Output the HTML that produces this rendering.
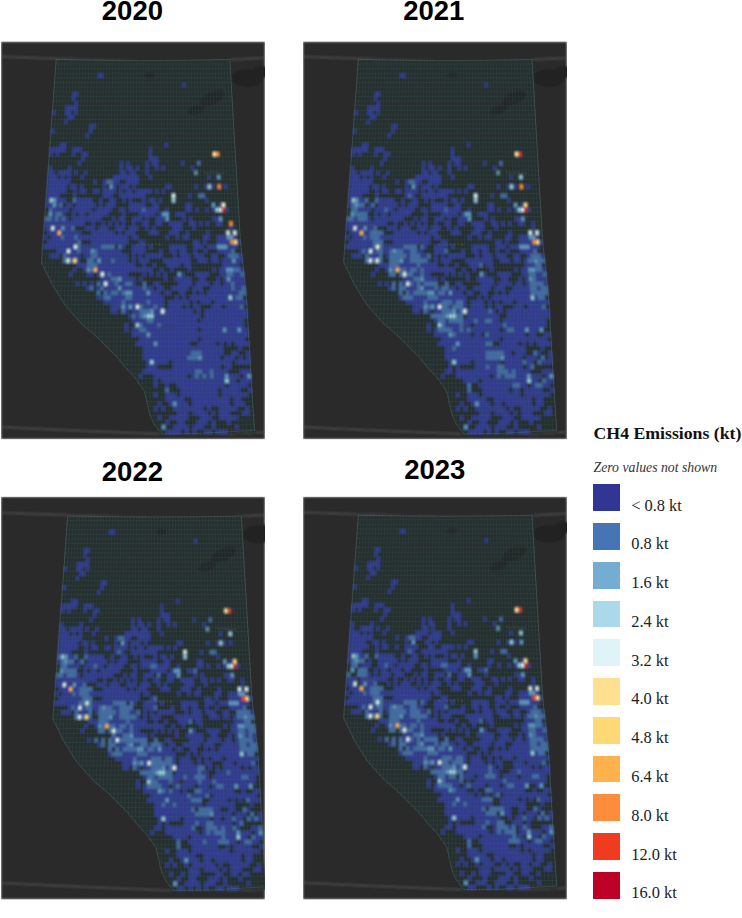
<!DOCTYPE html><html><head><meta charset="utf-8"><title>CH4 Emissions</title><style>
html,body{margin:0;padding:0;background:#fff}body{width:742px;height:918px;position:relative;overflow:hidden;font-family:"Liberation Sans",sans-serif}
.t{position:absolute;font:bold 27.5px "Liberation Sans",sans-serif;color:#000;line-height:27px;white-space:nowrap}
.lt{position:absolute;left:593.5px;top:422.4px;font:bold 17.75px "Liberation Serif",serif;color:#111;white-space:nowrap;line-height:22px}
.ls{position:absolute;left:593.5px;top:458.8px;font:italic 13.75px "Liberation Serif",serif;color:#333;white-space:nowrap;line-height:18px}
.sw{position:absolute;left:593px;width:27.4px;height:26.8px}
.ll{position:absolute;left:631.2px;font:16.4px "Liberation Serif",serif;color:#222;white-space:nowrap;line-height:20px}
svg{position:absolute;left:0;top:0}
</style></head><body>
<svg width="742" height="918" viewBox="0 0 742 918">
<defs><filter id="bl" x="-5%" y="-5%" width="110%" height="110%"><feGaussianBlur stdDeviation="0.8"/></filter>
<clipPath id="c0"><rect x="1" y="41.5" width="264" height="397.8"/></clipPath>
<clipPath id="c1"><rect x="303" y="41.5" width="264" height="397.8"/></clipPath>
<clipPath id="c2"><rect x="1" y="496.7" width="264" height="402.8"/></clipPath>
<clipPath id="c3"><rect x="303" y="496.7" width="264" height="402.8"/></clipPath>
<clipPath id="ab"><polygon points="55.2,58.9 143,60.1 230.8,59.1 241.3,240 247.6,300 252.2,380 255.5,432.8 200,435.9 161,436.3 156.7,429.1 152.4,423.6 148.1,412.9 146,402.1 143.3,391.6 134.3,378.6 125.8,369.6 115,356.6 105.4,347 94.6,336.2 80.6,324.3 64,305.6 51,284.6 40.4,262.6"/></clipPath>
<g id="base">
<g fill="#232222"><ellipse cx="247" cy="78" rx="16" ry="9"/><ellipse cx="262" cy="72" rx="10" ry="6"/></g><g fill="none" stroke="#5c5e5d" stroke-width="0.9"><path d="M-20 56Q60 59.2 143 60.6T300 55"/><path d="M-20 426Q80 431 162 434T300 427.5"/></g>
<polygon points="55.2,58.9 143,60.1 230.8,59.1 241.3,240 247.6,300 252.2,380 255.5,432.8 200,435.9 161,436.3 156.7,429.1 152.4,423.6 148.1,412.9 146,402.1 143.3,391.6 134.3,378.6 125.8,369.6 115,356.6 105.4,347 94.6,336.2 80.6,324.3 64,305.6 51,284.6 40.4,262.6" fill="#272e2e"/>
<g fill="#1f2323" opacity="0.8"><ellipse cx="212" cy="98" rx="13" ry="6" transform="rotate(-25 212 98)"/><ellipse cx="196" cy="110" rx="9" ry="4.5" transform="rotate(-20 196 110)"/><ellipse cx="150" cy="75" rx="5" ry="3"/></g>
</g>
<g id="grid" clip-path="url(#ab)"><path d="M52.2 59.4H233.8M51.9 64H234.1M51.6 68.6H234.3M51.2 73.3H234.6M50.9 77.9H234.9M50.6 82.5H235.1M50.3 87.1H235.4M49.9 91.8H235.7M49.6 96.4H235.9M49.3 101H236.2M49 105.6H236.5M48.6 110.3H236.7M48.3 114.9H237M48 119.5H237.3M47.7 124.1H237.6M47.3 128.8H237.8M47 133.4H238.1M46.7 138H238.4M46.4 142.6H238.6M46 147.3H238.9M45.7 151.9H239.2M45.4 156.5H239.4M45.1 161.1H239.7M44.8 165.8H240M44.4 170.4H240.2M44.1 175H240.5M43.8 179.6H240.8M43.5 184.3H241.1M43.1 188.9H241.3M42.8 193.5H241.6M42.5 198.1H241.9M42.2 202.8H242.1M41.8 207.4H242.4M41.5 212H242.7M41.2 216.6H242.9M40.9 221.3H243.2M40.5 225.9H243.5M40.2 230.5H243.7M39.9 235.1H244M39.6 239.8H244.3M39.3 244.4H244.8M38.9 249H245.2M38.6 253.6H245.7M38.3 258.3H246.2M38 262.9H246.7M37.6 267.5H247.2M37.3 272.1H247.7M37 276.8H248.2M36.7 281.4H248.6M36.3 286H249.1M36 290.6H249.6M35.7 295.3H250.1M35.4 299.9H250.6M35 304.5H250.9M34.7 309.1H251.1M34.4 313.8H251.4M34.1 318.4H251.7M33.7 323H251.9M33.4 327.6H252.2M33.1 332.3H252.5M32.8 336.9H252.7M32.5 341.5H253M32.1 346.1H253.3M31.8 350.8H253.5M31.5 355.4H253.8M31.2 360H254.1M30.8 364.6H254.3M30.5 369.3H254.6M30.2 373.9H254.8M29.9 378.5H255.1M29.5 383.1H255.4M29.2 387.8H255.7M28.9 392.4H256M28.6 397H256.3M28.2 401.6H256.6M27.9 406.3H256.9M27.6 410.9H257.2M27.3 415.5H257.5M26.9 420.1H257.8M26.6 424.8H258.2M26.3 429.4H258.5M26 434H258.8M25.7 438.6H259.1M53.3 58.4L40.2 240L35.8 300L30 380L25.8 438M56.3 58.4L43.6 240L39.4 300L33.8 380L29.7 438M59.3 58.4L47 240L42.9 300L37.5 380L33.6 438M62.3 58.4L50.3 240L46.5 300L41.3 380L37.5 438M65.2 58.4L53.7 240L50.1 300L45 380L41.4 438M68.2 58.4L57.1 240L53.7 300L48.8 380L45.2 438M71.2 58.4L60.5 240L57.2 300L52.5 380L49.1 438M74.2 58.4L63.9 240L60.8 300L56.3 380L53 438M77.2 58.4L67.3 240L64.4 300L60 380L56.9 438M80.2 58.4L70.7 240L67.9 300L63.8 380L60.8 438M83.2 58.4L74.1 240L71.5 300L67.5 380L64.7 438M86.2 58.4L77.5 240L75.1 300L71.2 380L68.5 438M89.2 58.4L80.9 240L78.7 300L75 380L72.4 438M92.2 58.4L84.3 240L82.2 300L78.7 380L76.3 438M95.1 58.4L87.7 240L85.8 300L82.5 380L80.2 438M98.1 58.4L91 240L89.4 300L86.2 380L84.1 438M101.1 58.4L94.4 240L93 300L90 380L88 438M104.1 58.4L97.8 240L96.5 300L93.7 380L91.9 438M107.1 58.4L101.2 240L100.1 300L97.5 380L95.7 438M110.1 58.4L104.6 240L103.7 300L101.2 380L99.6 438M113.1 58.4L108 240L107.2 300L105 380L103.5 438M116.1 58.4L111.4 240L110.8 300L108.7 380L107.4 438M119.1 58.4L114.8 240L114.4 300L112.5 380L111.3 438M122.1 58.4L118.2 240L118 300L116.2 380L115.2 438M125.1 58.4L121.6 240L121.5 300L120 380L119.1 438M128 58.4L125 240L125.1 300L123.7 380L122.9 438M131 58.4L128.4 240L128.7 300L127.5 380L126.8 438M134 58.4L131.8 240L132.3 300L131.2 380L130.7 438M137 58.4L135.1 240L135.8 300L135 380L134.6 438M140 58.4L138.5 240L139.4 300L138.7 380L138.5 438M143 58.4L141.9 240L143 300L142.5 380L142.4 438M146 58.4L145.3 240L146.6 300L146.2 380L146.2 438M149 58.4L148.7 240L150.1 300L150 380L150.1 438M152 58.4L152.1 240L153.7 300L153.7 380L154 438M155 58.4L155.5 240L157.3 300L157.5 380L157.9 438M158 58.4L158.9 240L160.8 300L161.2 380L161.8 438M160.9 58.4L162.3 240L164.4 300L165 380L165.7 438M163.9 58.4L165.7 240L168 300L168.7 380L169.6 438M166.9 58.4L169.1 240L171.6 300L172.5 380L173.4 438M169.9 58.4L172.5 240L175.1 300L176.2 380L177.3 438M172.9 58.4L175.9 240L178.7 300L180 380L181.2 438M175.9 58.4L179.2 240L182.3 300L183.7 380L185.1 438M178.9 58.4L182.6 240L185.9 300L187.5 380L189 438M181.9 58.4L186 240L189.4 300L191.2 380L192.9 438M184.9 58.4L189.4 240L193 300L195 380L196.8 438M187.9 58.4L192.8 240L196.6 300L198.7 380L200.6 438M190.9 58.4L196.2 240L200.1 300L202.5 380L204.5 438M193.8 58.4L199.6 240L203.7 300L206.2 380L208.4 438M196.8 58.4L203 240L207.3 300L210 380L212.3 438M199.8 58.4L206.4 240L210.9 300L213.7 380L216.2 438M202.8 58.4L209.8 240L214.4 300L217.5 380L220.1 438M205.8 58.4L213.2 240L218 300L221.2 380L223.9 438M208.8 58.4L216.6 240L221.6 300L225 380L227.8 438M211.8 58.4L219.9 240L225.2 300L228.7 380L231.7 438M214.8 58.4L223.3 240L228.7 300L232.5 380L235.6 438M217.8 58.4L226.7 240L232.3 300L236.2 380L239.5 438M220.8 58.4L230.1 240L235.9 300L240 380L243.4 438M223.7 58.4L233.5 240L239.5 300L243.7 380L247.3 438M226.7 58.4L236.9 240L243 300L247.5 380L251.1 438M229.7 58.4L240.3 240L246.6 300L251.2 380L255 438M232.7 58.4L243.7 240L250.2 300L254.9 380L258.9 438" fill="none" stroke="#41736c" stroke-width="0.8" stroke-opacity="0.21"/></g>
<g id="lab"><g font-family="Liberation Sans,sans-serif" opacity="0.5"><text x="136" y="246" font-size="3.4" fill="#6b6b6b" letter-spacing="1.6">ALBERTA</text><text x="161" y="283" font-size="4.4" fill="#4a3a30">Edmonton</text><text x="158" y="327.5" font-size="4.2" fill="#4a3a30">Red Deer</text><text x="152" y="369" font-size="4.4" fill="#4a3a30">Calgary</text><text x="178" y="412.5" font-size="4.2" fill="#4a3a30">Lethbridge</text><text x="222" y="397" font-size="4.0" fill="#4a3a30">Medicine Hat</text><text x="204" y="173.5" font-size="3.2" fill="#5f6664">Fort McMurray</text><text x="52" y="225.5" font-size="3.2" fill="#5f5a50">Grande Prairie</text></g></g>
<polygon id="abo" points="56.2,59.4 100,60.3 143,60.6 186,60.3 229.8,59.6 240.3,240 246.6,300 251.2,380 254.5,430.3 200,433.4 162,433.8 157.7,428.5 153.4,423 149.1,412.3 147,401.5 144.3,391 135.3,378 126.8,369 116,356 106.4,346.4 95.6,335.6 81.6,323.7 65,305 52,284 41.4,262" fill="none" stroke="#67877f" stroke-width="0.7" stroke-opacity="0.4"/>
</defs>
<g clip-path="url(#c0)"><g filter="url(#bl)">
<rect x="1" y="41.5" width="264" height="397.8" fill="#2b2a2a"/>
<g transform="translate(0 0)">
<use href="#base"/>
<path fill="#333b8f" d="M59.9 142.6H66.3L66 147.3H59.6zM164.7 142.6H167.9L168 147.3H164.8zM50 147.3H66L65.7 151.9H49.7zM72.4 147.3H81.9L81.7 151.9H72.1zM148.9 147.3H152L152 151.9H148.8zM49.7 151.9H52.9L52.6 156.5H49.4zM56.1 151.9H59.3L59 156.5H55.8zM72.1 151.9H75.3L75.1 156.5H71.9zM81.7 151.9H88.1L87.9 156.5H81.5zM148.8 151.9H152L152 156.5H148.8zM78 161.1H81.3L81 165.8H77.8zM119.9 161.1H123.1L123 165.8H119.8zM126.3 161.1H129.5L129.5 165.8H126.2zM145.6 161.1H148.8L148.8 165.8H145.6zM152 161.1H158.5L158.5 165.8H152.1zM181 161.1H184.2L184.3 165.8H181.1zM81.5 156.5H84.7L84.5 161.1H81.3zM148.8 156.5H158.5L158.5 161.1H148.8zM48.8 165.8H52L51.7 170.4H48.4zM68.1 165.8H71.4L71.1 170.4H67.9zM119.8 165.8H123L122.9 170.4H119.7zM126.2 165.8H132.7L132.6 170.4H126.1zM135.9 165.8H139.1L139.1 170.4H135.9zM145.6 165.8H148.8L148.8 170.4H145.6zM155.3 165.8H158.5L158.5 170.4H155.3zM161.7 165.8H165L165 170.4H161.8zM190.8 165.8H194L194.2 170.4H190.9zM48.4 170.4H54.9L54.6 175H48.1zM58.1 170.4H71.1L70.8 175H57.9zM74.3 170.4H77.6L77.3 175H74.1zM84.1 170.4H87.3L87.1 175H83.8zM119.7 170.4H126.1L126.1 175H119.6zM129.4 170.4H135.9L135.8 175H129.3zM145.6 170.4H148.8L148.8 175H145.6zM48.1 175H57.9L57.6 179.6H47.8zM61.1 175H64.3L64.1 179.6H60.8zM67.6 175H70.8L70.6 179.6H67.3zM80.6 175H83.8L83.6 179.6H80.4zM113.1 175H139.1L139 179.6H113zM148.8 175H152.1L152.1 179.6H148.8zM207.3 175H210.5L210.7 179.6H207.5zM47.8 179.6H70.6L70.3 184.3H47.5zM93.4 179.6H96.7L96.5 184.3H93.2zM103.2 179.6H106.4L106.3 184.3H103zM113 179.6H119.5L119.4 184.3H112.8zM126 179.6H139L139 184.3H125.9zM47.5 184.3H67.1L66.8 188.9H47.1zM70.3 184.3H76.9L76.6 188.9H70.1zM80.1 184.3H83.4L83.2 188.9H79.9zM103 184.3H106.3L106.2 188.9H102.9zM112.8 184.3H116.1L116 188.9H112.7zM119.4 184.3H129.2L129.1 188.9H119.3zM132.5 184.3H135.7L135.7 188.9H132.4zM165.1 184.3H171.7L171.7 188.9H165.2zM194.6 184.3H197.8L198 188.9H194.7zM204.4 184.3H207.6L207.8 188.9H204.5zM210.9 184.3H214.2L214.4 188.9H211.1zM224 184.3H227.2L227.5 188.9H224.2zM47.1 188.9H66.8L66.5 193.5H46.8zM73.4 188.9H76.6L76.4 193.5H73.1zM79.9 188.9H86.5L86.3 193.5H79.7zM93 188.9H99.6L99.4 193.5H92.9zM102.9 188.9H116L115.9 193.5H102.7zM119.3 188.9H122.6L122.5 193.5H119.2zM125.8 188.9H132.4L132.3 193.5H125.8zM135.7 188.9H152.1L152.1 193.5H135.6zM155.3 188.9H158.6L158.6 193.5H155.4zM161.9 188.9H165.2L165.2 193.5H161.9zM46.8 193.5H60L59.7 198.1H46.5zM73.1 193.5H76.4L76.2 198.1H72.9zM102.7 193.5H112.6L112.5 198.1H102.6zM119.2 193.5H145.5L145.5 198.1H119.1zM188.3 193.5H191.5L191.7 198.1H188.4zM46.5 198.1H49.8L49.5 202.8H46.2zM56.4 198.1H66.3L66 202.8H56.1zM76.2 198.1H92.7L92.5 202.8H76zM99.3 198.1H102.6L102.4 202.8H99.1zM109.2 198.1H115.8L115.7 202.8H109.1zM122.4 198.1H125.7L125.6 202.8H122.3zM129 198.1H132.3L132.2 202.8H128.9zM142.2 198.1H145.5L145.5 202.8H142.1zM148.8 198.1H155.4L155.4 202.8H148.8zM158.7 198.1H162L162 202.8H158.7zM204.9 198.1H208.2L208.3 202.8H205zM46.2 202.8H52.8L52.5 207.4H45.8zM56.1 202.8H59.4L59.1 207.4H55.8zM66 202.8H72.6L72.4 207.4H65.8zM76 202.8H95.8L95.6 207.4H75.7zM99.1 202.8H102.4L102.3 207.4H99zM105.7 202.8H115.7L115.6 207.4H105.6zM128.9 202.8H145.5L145.4 207.4H128.8zM152.1 202.8H158.7L158.7 207.4H152.1zM185.2 202.8H191.8L191.9 207.4H185.3zM218.3 202.8H221.6L221.8 207.4H218.5zM52.5 207.4H69.1L68.8 212H52.2zM72.4 207.4H92.3L92.1 212H72.2zM95.6 207.4H112.2L112.1 212H95.5zM118.9 207.4H125.5L125.4 212H118.8zM128.8 207.4H142.1L142.1 212H128.8zM145.4 207.4H158.7L158.7 212H145.4zM165.4 207.4H168.7L168.7 212H165.4zM185.3 207.4H191.9L192 212H185.4zM195.2 207.4H198.6L198.7 212H195.4zM205.2 207.4H208.5L208.7 212H205.4zM211.8 207.4H215.2L215.4 212H212zM225.1 207.4H228.4L228.7 212H225.4zM51.9 216.6H55.2L54.9 221.3H51.6zM58.6 216.6H61.9L61.6 221.3H58.3zM65.2 216.6H68.6L68.3 221.3H65zM71.9 216.6H102L101.8 221.3H71.7zM112 216.6H115.3L115.2 221.3H111.9zM118.7 216.6H125.4L125.3 221.3H118.6zM132 216.6H142.1L142 221.3H132zM145.4 216.6H148.7L148.7 221.3H145.4zM155.4 216.6H165.5L165.5 221.3H155.4zM182.2 216.6H185.5L185.6 221.3H182.2zM188.8 216.6H192.2L192.3 221.3H188.9zM212.2 216.6H218.9L219.1 221.3H212.4zM52.2 212H55.5L55.2 216.6H51.9zM62.2 212H65.5L65.2 216.6H61.9zM72.2 212H75.5L75.3 216.6H71.9zM78.8 212H85.5L85.3 216.6H78.6zM88.8 212H108.8L108.7 216.6H88.6zM122.1 212H125.4L125.4 216.6H122zM138.8 212H155.4L155.4 216.6H138.7zM158.7 212H162.1L162.1 216.6H158.8zM175.4 212H185.4L185.5 216.6H175.5zM44.9 221.3H85.1L84.9 225.9H44.5zM91.8 221.3H95.1L95 225.9H91.6zM101.8 221.3H105.2L105 225.9H101.7zM108.5 221.3H111.9L111.8 225.9H108.4zM115.2 221.3H118.6L118.5 225.9H115.1zM121.9 221.3H125.3L125.2 225.9H121.8zM132 221.3H135.3L135.3 225.9H131.9zM142 221.3H148.7L148.7 225.9H142zM155.4 221.3H162.1L162.2 225.9H155.5zM168.8 221.3H182.2L182.3 225.9H168.9zM188.9 221.3H195.7L195.8 225.9H189.1zM199 221.3H202.4L202.5 225.9H199.1zM205.7 221.3H209.1L209.2 225.9H205.9zM215.8 221.3H222.5L222.7 225.9H216zM44.5 225.9H51.3L51 230.5H44.2zM54.6 225.9H61.4L61.1 230.5H54.3zM64.7 225.9H71.4L71.2 230.5H64.4zM84.9 225.9H95L94.8 230.5H84.7zM98.3 225.9H108.4L108.3 230.5H98.2zM115.1 225.9H125.2L125.1 230.5H115zM128.6 225.9H138.7L138.6 230.5H128.5zM145.4 225.9H148.7L148.7 230.5H145.4zM152.1 225.9H155.5L155.5 230.5H152.1zM172.3 225.9H182.3L182.4 230.5H172.3zM192.4 225.9H195.8L195.9 230.5H192.6zM229.4 225.9H232.8L233 230.5H229.6zM47.6 230.5H57.7L57.4 235.1H47.3zM61.1 230.5H81.3L81.1 235.1H60.8zM91.4 230.5H115L114.9 235.1H91.2zM118.4 230.5H121.8L121.7 235.1H118.3zM125.1 230.5H135.2L135.2 235.1H125.1zM148.7 230.5H158.8L158.9 235.1H148.7zM169 230.5H179.1L179.2 235.1H169zM185.8 230.5H189.2L189.3 235.1H185.9zM206 230.5H209.4L209.6 235.1H206.2zM43.9 235.1H47.3L47 239.8H43.6zM50.7 235.1H60.8L60.5 239.8H50.4zM64.2 235.1H74.3L74.1 239.8H63.9zM77.7 235.1H128.4L128.4 239.8H77.5zM131.8 235.1H138.6L138.5 239.8H131.8zM165.6 235.1H169L169.1 239.8H165.7zM175.8 235.1H179.2L179.2 239.8H175.8zM182.5 235.1H189.3L189.4 239.8H182.6zM202.8 235.1H209.6L209.8 239.8H203zM216.3 235.1H226.5L226.7 239.8H216.5zM233.3 235.1H236.6L236.9 239.8H233.5zM47 239.8H77.5L77.3 244.4H46.7zM91.1 239.8H128.4L128.4 244.4H90.9zM138.5 239.8H145.3L145.4 244.4H138.6zM192.8 239.8H199.6L199.9 244.4H193.1zM203 239.8H206.4L206.7 244.4H203.3zM216.5 239.8H230.1L230.5 244.4H216.9zM236.9 239.8H240.3L240.8 244.4H237.4zM43.3 244.4H73.9L73.7 249H42.9zM80.7 244.4H101.1L101.1 249H80.5zM121.6 244.4H125L125 249H121.6zM131.8 244.4H145.4L145.5 249H131.8zM148.8 244.4H152.2L152.3 249H148.9zM169.2 244.4H186.3L186.5 249H169.4zM193.1 244.4H203.3L203.6 249H193.4zM206.7 244.4H216.9L217.3 249H207.1zM227.1 244.4H237.4L237.8 249H227.6zM56.6 249H66.9L66.6 253.6H56.3zM70.3 249H77.1L76.9 253.6H70.1zM80.5 249H90.8L90.7 253.6H80.4zM97.6 249H121.6L121.6 253.6H97.5zM131.8 249H145.5L145.6 253.6H131.9zM159.2 249H162.6L162.8 253.6H159.3zM169.4 249H176.3L176.5 253.6H169.6zM179.7 249H186.5L186.8 253.6H179.9zM193.4 249H196.8L197.1 253.6H193.7zM203.6 249H207.1L207.4 253.6H204zM217.3 249H231L231.4 253.6H217.7zM49.5 253.6H59.8L59.5 258.3H49.2zM66.6 253.6H80.4L80.2 258.3H66.4zM83.8 253.6H90.7L90.5 258.3H83.6zM97.5 253.6H128.4L128.5 258.3H97.4zM131.9 253.6H135.3L135.4 258.3H131.9zM138.7 253.6H142.2L142.2 258.3H138.8zM145.6 253.6H162.8L162.9 258.3H145.7zM173.1 253.6H176.5L176.7 258.3H173.3zM179.9 253.6H190.2L190.5 258.3H180.2zM193.7 253.6H204L204.3 258.3H194zM210.8 253.6H217.7L218.1 258.3H211.2zM224.6 253.6H228L228.4 258.3H225zM238.3 253.6H241.7L242.2 258.3H238.8zM76.8 258.3H80.2L80 262.9H76.6zM94 258.3H97.4L97.3 262.9H93.9zM100.9 258.3H111.2L111.2 262.9H100.8zM114.7 258.3H128.5L128.5 262.9H114.6zM131.9 258.3H135.4L135.4 262.9H131.9zM138.8 258.3H149.1L149.3 262.9H138.9zM162.9 258.3H190.5L190.8 262.9H163.1zM197.4 258.3H207.7L208.1 262.9H197.7zM211.2 258.3H218.1L218.5 262.9H211.6zM221.5 258.3H231.9L232.3 262.9H221.9zM235.3 258.3H242.2L242.7 262.9H235.8zM76.6 262.9H87L86.8 267.5H76.4zM97.3 262.9H135.4L135.5 267.5H97.2zM142.3 262.9H145.8L145.9 267.5H142.4zM152.7 262.9H156.2L156.3 267.5H152.8zM166.6 262.9H180.4L180.6 267.5H166.7zM183.9 262.9H190.8L191.1 267.5H184.1zM221.9 262.9H239.2L239.7 267.5H222.3zM69.2 272.1H72.7L72.5 276.8H69zM86.7 272.1H93.6L93.5 276.8H86.5zM97.1 272.1H100.6L100.5 276.8H97zM104.1 272.1H107.6L107.5 276.8H104zM111.1 272.1H128.5L128.6 276.8H111zM142.5 272.1H146L146.1 276.8H142.6zM149.5 272.1H153L153.1 276.8H149.6zM156.4 272.1H159.9L160.1 276.8H156.6zM163.4 272.1H166.9L167.1 276.8H163.6zM180.9 272.1H184.4L184.6 276.8H181.1zM194.8 272.1H208.8L209.1 276.8H195.1zM219.3 272.1H226.2L226.6 276.8H219.6zM233.2 272.1H240.2L240.7 276.8H233.7zM72.9 267.5H76.4L76.2 272.1H72.7zM83.3 267.5H86.8L86.7 272.1H83.2zM97.2 267.5H152.8L153 272.1H97.1zM159.8 267.5H163.3L163.4 272.1H159.9zM170.2 267.5H173.7L173.9 272.1H170.4zM187.6 267.5H191.1L191.3 272.1H187.8zM211.9 267.5H215.4L215.8 272.1H212.3zM218.9 267.5H225.8L226.2 272.1H219.3zM239.7 267.5H243.2L243.7 272.1H240.2zM75.8 281.4H79.3L79.2 286H75.6zM82.9 281.4H86.4L86.2 286H82.7zM89.9 281.4H93.4L93.3 286H89.8zM100.4 281.4H104L103.9 286H100.4zM107.5 281.4H114.5L114.5 286H107.4zM118 281.4H125.1L125.1 286H118zM132.1 281.4H135.6L135.7 286H132.1zM153.2 281.4H160.2L160.4 286H153.3zM177.8 281.4H191.9L192.2 286H178zM195.4 281.4H209.5L209.8 286H195.7zM213 281.4H220L220.4 286H213.4zM223.5 281.4H230.6L231 286H223.9zM234.1 281.4H244.6L245.1 286H234.5zM100.5 276.8H111L111 281.4H100.4zM121.6 276.8H135.6L135.6 281.4H121.6zM139.1 276.8H142.6L142.7 281.4H139.1zM163.6 276.8H167.1L167.3 281.4H163.8zM174.1 276.8H191.6L191.9 281.4H174.3zM198.6 276.8H205.6L206 281.4H198.9zM216.1 276.8H219.6L220 281.4H216.5zM223.1 276.8H226.6L227.1 281.4H223.5zM230.1 276.8H244.2L244.6 281.4H230.6zM86.2 286H89.8L89.6 290.6H86.1zM96.8 286H100.4L100.3 290.6H96.7zM103.9 286H118L118 290.6H103.8zM121.5 286H142.7L142.8 290.6H121.5zM146.3 286H153.3L153.4 290.6H146.4zM156.9 286H163.9L164.1 290.6H157zM171 286H188.6L188.9 290.6H171.2zM192.2 286H202.8L203.1 290.6H192.4zM209.8 286H231L231.4 290.6H210.2zM234.5 286H241.6L242.1 290.6H235zM107.4 290.6H110.9L110.9 295.3H107.3zM118 290.6H121.5L121.5 295.3H118zM132.2 290.6H146.4L146.5 295.3H132.2zM149.9 290.6H160.5L160.7 295.3H150zM164.1 290.6H171.2L171.4 295.3H164.2zM178.3 290.6H185.4L185.6 295.3H178.5zM192.4 290.6H196L196.3 295.3H192.7zM199.5 290.6H203.1L203.4 295.3H199.8zM206.6 290.6H238.5L239 295.3H207zM96.6 295.3H103.7L103.7 299.9H96.5zM110.9 295.3H125.1L125.1 299.9H110.8zM132.2 295.3H164.2L164.4 299.9H132.3zM174.9 295.3H178.5L178.7 299.9H175.1zM182 295.3H185.6L185.9 299.9H182.3zM189.2 295.3H228.3L228.7 299.9H189.4zM231.9 295.3H235.4L235.9 299.9H232.3zM103.7 299.9H121.5L121.5 304.5H103.5zM125.1 299.9H146.5L146.5 304.5H125zM150.1 299.9H164.4L164.4 304.5H150.1zM168 299.9H189.4L189.5 304.5H168zM193 299.9H196.6L196.7 304.5H193.1zM200.1 299.9H210.9L211 304.5H200.3zM214.4 299.9H246.6L246.9 304.5H214.6zM110.7 304.5H121.5L121.4 309.1H110.6zM125 304.5H128.6L128.5 309.1H125zM132.2 304.5H135.8L135.7 309.1H132.1zM143 304.5H153.7L153.7 309.1H142.9zM157.3 304.5H164.4L164.5 309.1H157.3zM168 304.5H182.4L182.4 309.1H168.1zM185.9 304.5H189.5L189.6 309.1H186zM193.1 304.5H200.3L200.4 309.1H193.2zM211 304.5H221.8L222 309.1H211.2zM225.4 304.5H239.7L239.9 309.1H225.6zM110.6 309.1H117.8L117.7 313.8H110.5zM125 309.1H128.5L128.5 313.8H124.9zM132.1 309.1H139.3L139.3 313.8H132.1zM153.7 309.1H160.9L160.9 313.8H153.7zM164.5 309.1H193.2L193.3 313.8H164.5zM196.8 309.1H200.4L200.5 313.8H196.9zM204 309.1H247.1L247.4 313.8H204.2zM128.5 313.8H132.1L132 318.4H128.4zM135.7 313.8H139.3L139.3 318.4H135.6zM153.7 313.8H200.5L200.7 318.4H153.7zM204.2 313.8H247.4L247.7 318.4H204.3zM132 318.4H146.5L146.5 323H132zM153.7 318.4H197.1L197.2 323H153.7zM200.7 318.4H244L244.3 323H200.8zM124.7 323H128.3L128.3 327.6H124.6zM142.8 323H157.3L157.3 327.6H142.8zM161 323H244.3L244.6 327.6H161zM124.6 327.6H128.3L128.2 332.3H124.6zM131.9 327.6H139.2L139.1 332.3H131.8zM146.4 327.6H197.3L197.4 332.3H146.4zM200.9 327.6H222.8L222.9 332.3H201.1zM226.4 327.6H237.3L237.5 332.3H226.6zM240.9 327.6H248.2L248.5 332.3H241.2zM131.8 332.3H146.4L146.4 336.9H131.8zM150.1 332.3H248.5L248.7 336.9H150.1zM139.1 336.9H197.6L197.7 341.5H139.1zM201.2 336.9H245.1L245.3 341.5H201.3zM135.4 341.5H153.7L153.7 346.1H135.3zM157.4 341.5H190.4L190.5 346.1H157.4zM197.7 341.5H216L216.2 346.1H197.8zM219.7 341.5H223.3L223.5 346.1H219.9zM227 341.5H230.7L230.9 346.1H227.2zM234.3 341.5H249L249.3 346.1H234.6zM142.7 346.1H223.5L223.7 350.8H142.7zM238.2 346.1H241.9L242.1 350.8H238.5zM142.7 350.8H190.6L190.7 355.4H142.6zM201.6 350.8H223.7L223.9 355.4H201.8zM231.1 350.8H238.5L238.7 355.4H231.3zM245.8 350.8H249.5L249.8 355.4H246.1zM142.6 355.4H187L187.1 360H142.6zM201.8 355.4H220.2L220.4 360H201.9zM223.9 355.4H235L235.2 360H224.1zM238.7 355.4H242.4L242.6 360H238.9zM246.1 355.4H249.8L250.1 360H246.3zM146.3 360H150L150 364.6H146.3zM153.7 360H168.5L168.6 364.6H153.7zM172.2 360H231.5L231.7 364.6H172.3zM235.2 360H250.1L250.3 364.6H235.5zM142.5 369.3H194.7L194.8 373.9H142.5zM202.2 369.3H209.6L209.8 373.9H202.3zM213.3 369.3H228.2L228.4 373.9H213.5zM239.4 369.3H250.6L250.8 373.9H239.6zM146.3 364.6H157.4L157.4 369.3H146.3zM172.3 364.6H220.6L220.8 369.3H172.3zM224.3 364.6H231.7L232 369.3H224.5zM138.8 373.9H142.5L142.5 378.5H138.7zM153.7 373.9H187.3L187.4 378.5H153.7zM191.1 373.9H194.8L194.9 378.5H191.2zM198.6 373.9H202.3L202.4 378.5H198.7zM206 373.9H209.8L209.9 378.5H206.2zM213.5 373.9H224.7L224.9 378.5H213.7zM228.4 373.9H239.6L239.9 378.5H228.6zM243.4 373.9H247.1L247.4 378.5H243.6zM153.7 378.5H157.5L157.5 383.1H153.7zM161.2 378.5H224.9L225.1 383.1H161.3zM228.6 378.5H236.1L236.4 383.1H228.9zM239.9 378.5H251.1L251.4 383.1H240.1zM153.7 383.1H157.5L157.5 387.8H153.8zM165 383.1H168.8L168.8 387.8H165.1zM176.3 383.1H225.1L225.3 387.8H176.4zM228.9 383.1H247.7L247.9 387.8H229.1zM153.8 392.4H157.6L157.6 397H153.8zM165.1 392.4H176.5L176.5 397H165.2zM180.2 392.4H218L218.2 397H180.3zM221.8 392.4H248.2L248.5 397H222zM180.1 387.8H217.8L218 392.4H180.2zM221.6 387.8H240.4L240.7 392.4H221.8zM247.9 387.8H251.7L252 392.4H248.2zM157.6 401.6H161.4L161.5 406.3H157.7zM169 401.6H172.8L172.9 406.3H169.1zM176.6 401.6H188L188.2 406.3H176.7zM191.8 401.6H229.8L230.1 406.3H192zM233.6 401.6H245L245.3 406.3H233.9zM165.2 397H184.1L184.2 401.6H165.2zM191.7 397H229.6L229.8 401.6H191.8zM233.4 397H241L241.2 401.6H233.6zM153.9 406.3H157.7L157.7 410.9H153.9zM161.5 406.3H165.3L165.3 410.9H161.5zM172.9 406.3H203.4L203.6 410.9H173zM207.2 406.3H211L211.2 410.9H207.4zM218.6 406.3H237.7L238 410.9H218.8zM245.3 406.3H249.1L249.4 410.9H245.6zM157.7 415.5H161.6L161.6 420.1H157.8zM169.2 415.5H188.4L188.5 420.1H169.3zM199.9 415.5H211.4L211.6 420.1H200zM219.1 415.5H238.2L238.5 420.1H219.3zM176.8 410.9H188.3L188.4 415.5H176.9zM192.1 410.9H207.4L207.6 415.5H192.2zM211.2 410.9H215L215.2 415.5H211.4zM218.8 410.9H230.3L230.5 415.5H219.1zM241.8 410.9H249.4L249.7 415.5H242zM165.5 420.1H169.3L169.4 424.8H165.5zM177 420.1H184.7L184.8 424.8H177.1zM196.2 420.1H207.7L207.9 424.8H196.3zM211.6 420.1H215.4L215.6 424.8H211.8zM226.9 420.1H230.8L231 424.8H227.2zM173.2 424.8H188.6L188.8 429.4H173.3zM192.5 424.8H204.1L204.2 429.4H192.6zM211.8 424.8H215.6L215.8 429.4H211.9zM234.9 424.8H238.7L239 429.4H235.1zM165.6 429.4H181L181.1 434H165.6zM184.9 429.4H188.8L188.9 434H185zM192.6 429.4H196.5L196.6 434H192.8zM204.2 429.4H211.9L212.1 434H204.4zM215.8 429.4H227.4L227.6 434H216zM97.6 73.3H103.6L103.4 77.9H97.4zM72.3 91.8H78.4L78.2 96.4H72.1zM72.1 96.4H75.1L74.9 101H71.8zM74.9 101H78L77.7 105.6H74.6zM65.3 105.6H77.7L77.5 110.3H65.1zM52.6 110.3H55.7L55.4 114.9H52.3zM65.1 110.3H71.3L71 114.9H64.8zM74.4 110.3H77.5L77.2 114.9H74.1zM67.9 114.9H74.1L73.9 119.5H67.6zM64.5 119.5H67.6L67.3 124.1H64.2zM89.3 124.1H95.6L95.4 128.8H89.1zM51.3 128.8H54.5L54.2 133.4H51zM89.1 128.8H92.2L92.1 133.4H88.9zM85.7 133.4H88.9L88.7 138H85.5zM182.4 82.5H185.5L185.6 87.1H182.5z"/><path fill="#446ca4" d="M197.1 161.1H200.3L200.5 165.8H197.2zM106.4 179.6H113L112.8 184.3H106.3zM198.1 193.5H204.7L204.9 198.1H198.3zM72.9 198.1H76.2L76 202.8H72.6zM59.4 202.8H62.7L62.4 207.4H59.1zM49.2 207.4H52.5L52.2 212H48.8zM142.1 207.4H145.4L145.4 212H142.1zM45.2 216.6H51.9L51.6 221.3H44.9zM55.2 216.6H58.6L58.3 221.3H54.9zM61.9 216.6H65.2L65 221.3H61.6zM55.5 212H62.2L61.9 216.6H55.2zM71.4 225.9H74.8L74.6 230.5H71.2zM60.8 235.1H64.2L63.9 239.8H60.5zM74.3 235.1H77.7L77.5 239.8H74.1zM77.5 239.8H80.9L80.7 244.4H77.3zM77.3 244.4H80.7L80.5 249H77.1zM101.1 244.4H114.8L114.7 249H101.1zM118.2 244.4H121.6L121.6 249H118.2zM77.1 249H80.5L80.4 253.6H76.9zM94.2 249H97.6L97.5 253.6H94.1zM231 249H234.4L234.9 253.6H231.4zM63.2 253.6H66.6L66.4 258.3H63zM90.7 253.6H97.5L97.4 258.3H90.5zM228 253.6H238.3L238.8 258.3H228.4zM63 258.3H66.4L66.2 262.9H62.7zM69.9 258.3H73.3L73.1 262.9H69.6zM87.1 258.3H94L93.9 262.9H87zM111.2 258.3H114.7L114.6 262.9H111.2zM87 262.9H97.3L97.2 267.5H86.8zM107.6 272.1H111.1L111 276.8H107.5zM226.2 272.1H233.2L233.7 276.8H226.6zM240.2 272.1H243.7L244.2 276.8H240.7zM90.3 267.5H93.8L93.6 272.1H90.2zM232.8 267.5H239.7L240.2 272.1H233.2zM96.9 281.4H100.4L100.4 286H96.8zM114.5 281.4H118L118 286H114.5zM125.1 281.4H132.1L132.1 286H125.1zM142.7 281.4H146.2L146.3 286H142.7zM230.6 281.4H234.1L234.5 286H231zM111 276.8H118.1L118 281.4H111zM89.8 286H93.3L93.2 290.6H89.6zM100.4 286H103.9L103.8 290.6H100.3zM142.7 286H146.3L146.4 290.6H142.8zM231 286H234.5L235 290.6H231.4zM241.6 286H245.1L245.6 290.6H242.1zM96.7 290.6H100.3L100.2 295.3H96.6zM103.8 290.6H107.4L107.3 295.3H103.7zM110.9 290.6H118L118 295.3H110.9zM121.5 290.6H125.1L125.1 295.3H121.5zM238.5 290.6H245.6L246.1 295.3H239zM103.7 295.3H110.9L110.8 299.9H103.7zM125.1 295.3H132.2L132.3 299.9H125.1zM235.4 295.3H242.5L243 299.9H235.9zM121.5 299.9H125.1L125 304.5H121.5zM146.5 299.9H150.1L150.1 304.5H146.5zM139.4 304.5H143L142.9 309.1H139.3zM153.7 304.5H157.3L157.3 309.1H153.7zM239.7 304.5H243.3L243.5 309.1H239.9zM121.4 309.1H125L124.9 313.8H121.3zM139.3 309.1H150.1L150.1 313.8H139.3zM132.1 313.8H135.7L135.6 318.4H132zM139.3 313.8H142.9L142.9 318.4H139.3zM146.5 318.4H153.7L153.7 323H146.5zM139.2 323H142.8L142.8 327.6H139.2zM157.3 323H161L161 327.6H157.3zM139.2 327.6H146.4L146.4 332.3H139.1zM190.6 350.8H201.6L201.8 355.4H190.7zM187 355.4H198.1L198.2 360H187.1zM194.7 369.3H202.2L202.3 373.9H194.8zM209.6 369.3H213.3L213.5 373.9H209.8zM194.8 373.9H198.6L198.7 378.5H194.9zM202.3 373.9H206L206.2 378.5H202.4zM209.8 373.9H213.5L213.7 378.5H209.9zM165.1 387.8H168.8L168.9 392.4H165.1z"/><path fill="#5f93c0" d="M217 175H220.3L220.5 179.6H217.2zM109.6 184.3H112.8L112.7 188.9H109.4zM53.1 198.1H56.4L56.1 202.8H52.8zM52.8 202.8H56.1L55.8 207.4H52.5zM211.7 202.8H215L215.2 207.4H211.8zM165.5 216.6H168.8L168.8 221.3H165.5zM218.9 216.6H222.2L222.5 221.3H219.1zM48.8 212H52.2L51.9 216.6H48.5zM162.1 212H168.7L168.8 216.6H162.1zM61.4 225.9H64.7L64.4 230.5H61.1zM226.5 235.1H233.3L233.5 239.8H226.7zM216.9 244.4H227.1L227.6 249H217.3zM90.8 249H94.2L94.1 253.6H90.7zM97.4 258.3H100.9L100.8 262.9H97.3zM231.9 258.3H235.3L235.8 262.9H232.3zM177.4 272.1H180.9L181.1 276.8H177.6zM86.8 267.5H90.3L90.2 272.1H86.7zM225.8 267.5H232.8L233.2 272.1H226.2zM118.1 276.8H121.6L121.6 281.4H118zM226.6 276.8H230.1L230.6 281.4H227.1zM118 286H121.5L121.5 290.6H118zM125.1 290.6H132.2L132.2 295.3H125.1zM146.4 290.6H149.9L150 295.3H146.5zM121.5 304.5H125L125 309.1H121.4zM128.6 304.5H132.2L132.1 309.1H128.5zM150.1 309.1H153.7L153.7 313.8H150.1zM142.9 313.8H146.5L146.5 318.4H142.9zM222.8 327.6H226.4L226.6 332.3H222.9zM237.3 327.6H240.9L241.2 332.3H237.5zM146.4 332.3H150.1L150.1 336.9H146.4zM153.7 341.5H157.4L157.4 346.1H153.7zM198.1 355.4H201.8L201.9 360H198.2zM224.7 373.9H228.4L228.6 378.5H224.9zM247.1 373.9H250.8L251.1 378.5H247.4zM172.8 401.6H176.6L176.7 406.3H172.9zM161.7 424.8H165.5L165.6 429.4H161.7z"/><path fill="#93c4d9" d="M207.6 184.3H210.9L211.1 188.9H207.8zM49.8 198.1H53.1L52.8 202.8H49.5zM171.9 198.1H175.2L175.2 202.8H171.9zM215.2 207.4H218.5L218.7 212H215.4zM228.3 295.3H231.9L232.3 299.9H228.7zM146.5 313.8H153.7L153.7 318.4H146.5zM135.6 323H139.2L139.2 327.6H135.5zM150 360H153.7L153.7 364.6H150zM224.9 378.5H228.6L228.9 383.1H225.1z"/><path fill="#d3e6ec" d="M171.8 193.5H175.1L175.2 198.1H171.9zM218.5 207.4H221.8L222 212H218.7zM51.3 225.9H54.6L54.3 230.5H51zM226.3 230.5H229.6L229.9 235.1H226.5zM233 230.5H236.4L236.6 235.1H233.3zM73.9 244.4H77.3L77.1 249H73.7zM66.9 249H70.3L70.1 253.6H66.6zM66.4 258.3H69.9L69.6 262.9H66.2zM100.6 272.1H104.1L104 276.8H100.5zM104 281.4H107.5L107.4 286H103.9zM135.8 304.5H139.4L139.3 309.1H135.7zM160.9 309.1H164.5L164.5 313.8H160.9z"/><path fill="#fee8a8" d="M212.8 151.9H216L216.2 156.5H213z"/><path fill="#fed976" d="M233.5 239.8H236.9L237.4 244.4H234zM73.3 258.3H76.8L76.6 262.9H73.1z"/><path fill="#fdae45" d="M57.7 230.5H61.1L60.8 235.1H57.4zM93.8 267.5H97.2L97.1 272.1H93.6z"/><path fill="#f98a35" d="M216 151.9H219.2L219.4 156.5H216.2zM217.4 184.3H220.7L220.9 188.9H217.7zM229.2 221.3H232.5L232.8 225.9H229.4zM230.1 239.8H233.5L234 244.4H230.5z"/><path fill="#c8102a" d="M221.8 207.4H225.1L225.4 212H222z"/><path fill="#efeacb" d="M221.6 202.8H224.9L225.1 207.4H221.8z"/><path fill="#5f93a3" d="M194.2 170.4H197.4L197.5 175H194.3z"/>
</g></g>
<g transform="translate(0 0)"><use href="#grid"/><use href="#abo"/><use href="#lab"/></g>
</g>
<g clip-path="url(#c1)"><g filter="url(#bl)">
<rect x="303" y="41.5" width="264" height="397.8" fill="#2b2a2a"/>
<g transform="translate(302.2 0)">
<use href="#base"/>
<path fill="#333b8f" d="M59.9 142.6H66.3L66 147.3H59.6zM164.7 142.6H167.9L168 147.3H164.8zM50 147.3H66L65.7 151.9H49.7zM72.4 147.3H81.9L81.7 151.9H72.1zM148.9 147.3H152L152 151.9H148.8zM49.7 151.9H52.9L52.6 156.5H49.4zM56.1 151.9H59.3L59 156.5H55.8zM72.1 151.9H75.3L75.1 156.5H71.9zM81.7 151.9H88.1L87.9 156.5H81.5zM148.8 151.9H152L152 156.5H148.8zM78 161.1H81.3L81 165.8H77.8zM119.9 161.1H123.1L123 165.8H119.8zM126.3 161.1H129.5L129.5 165.8H126.2zM145.6 161.1H148.8L148.8 165.8H145.6zM152 161.1H158.5L158.5 165.8H152.1zM181 161.1H184.2L184.3 165.8H181.1zM81.5 156.5H84.7L84.5 161.1H81.3zM148.8 156.5H158.5L158.5 161.1H148.8zM48.8 165.8H52L51.7 170.4H48.4zM68.1 165.8H71.4L71.1 170.4H67.9zM119.8 165.8H123L122.9 170.4H119.7zM126.2 165.8H132.7L132.6 170.4H126.1zM135.9 165.8H139.1L139.1 170.4H135.9zM145.6 165.8H148.8L148.8 170.4H145.6zM155.3 165.8H158.5L158.5 170.4H155.3zM161.7 165.8H165L165 170.4H161.8zM190.8 165.8H194L194.2 170.4H190.9zM48.4 170.4H54.9L54.6 175H48.1zM58.1 170.4H71.1L70.8 175H57.9zM74.3 170.4H77.6L77.3 175H74.1zM84.1 170.4H87.3L87.1 175H83.8zM119.7 170.4H126.1L126.1 175H119.6zM129.4 170.4H135.9L135.8 175H129.3zM145.6 170.4H148.8L148.8 175H145.6zM48.1 175H57.9L57.6 179.6H47.8zM61.1 175H64.3L64.1 179.6H60.8zM67.6 175H70.8L70.6 179.6H67.3zM80.6 175H83.8L83.6 179.6H80.4zM113.1 175H139.1L139 179.6H113zM148.8 175H152.1L152.1 179.6H148.8zM207.3 175H210.5L210.7 179.6H207.5zM47.8 179.6H70.6L70.3 184.3H47.5zM93.4 179.6H96.7L96.5 184.3H93.2zM103.2 179.6H106.4L106.3 184.3H103zM113 179.6H119.5L119.4 184.3H112.8zM126 179.6H139L139 184.3H125.9zM47.5 184.3H67.1L66.8 188.9H47.1zM70.3 184.3H76.9L76.6 188.9H70.1zM80.1 184.3H83.4L83.2 188.9H79.9zM103 184.3H106.3L106.2 188.9H102.9zM112.8 184.3H116.1L116 188.9H112.7zM119.4 184.3H129.2L129.1 188.9H119.3zM132.5 184.3H135.7L135.7 188.9H132.4zM165.1 184.3H171.7L171.7 188.9H165.2zM194.6 184.3H197.8L198 188.9H194.7zM204.4 184.3H207.6L207.8 188.9H204.5zM210.9 184.3H214.2L214.4 188.9H211.1zM224 184.3H227.2L227.5 188.9H224.2zM47.1 188.9H66.8L66.5 193.5H46.8zM73.4 188.9H76.6L76.4 193.5H73.1zM79.9 188.9H86.5L86.3 193.5H79.7zM93 188.9H99.6L99.4 193.5H92.9zM102.9 188.9H116L115.9 193.5H102.7zM119.3 188.9H122.6L122.5 193.5H119.2zM125.8 188.9H132.4L132.3 193.5H125.8zM135.7 188.9H152.1L152.1 193.5H135.6zM155.3 188.9H158.6L158.6 193.5H155.4zM161.9 188.9H165.2L165.2 193.5H161.9zM46.8 193.5H60L59.7 198.1H46.5zM73.1 193.5H76.4L76.2 198.1H72.9zM102.7 193.5H106L105.9 198.1H102.6zM109.3 193.5H112.6L112.5 198.1H109.2zM119.2 193.5H145.5L145.5 198.1H119.1zM188.3 193.5H191.5L191.7 198.1H188.4zM46.5 198.1H49.8L49.5 202.8H46.2zM56.4 198.1H63L62.7 202.8H56.1zM76.2 198.1H92.7L92.5 202.8H76zM99.3 198.1H102.6L102.4 202.8H99.1zM109.2 198.1H115.8L115.7 202.8H109.1zM122.4 198.1H125.7L125.6 202.8H122.3zM129 198.1H132.3L132.2 202.8H128.9zM142.2 198.1H145.5L145.5 202.8H142.1zM148.8 198.1H155.4L155.4 202.8H148.8zM158.7 198.1H162L162 202.8H158.7zM204.9 198.1H208.2L208.3 202.8H205zM46.2 202.8H49.5L49.2 207.4H45.8zM66 202.8H69.3L69.1 207.4H65.8zM76 202.8H95.8L95.6 207.4H75.7zM99.1 202.8H102.4L102.3 207.4H99zM105.7 202.8H115.7L115.6 207.4H105.6zM128.9 202.8H145.5L145.4 207.4H128.8zM152.1 202.8H158.7L158.7 207.4H152.1zM185.2 202.8H191.8L191.9 207.4H185.3zM218.3 202.8H221.6L221.8 207.4H218.5zM55.8 207.4H69.1L68.8 212H55.5zM72.4 207.4H82.4L82.1 212H72.2zM85.7 207.4H92.3L92.1 212H85.5zM95.6 207.4H112.2L112.1 212H95.5zM118.9 207.4H125.5L125.4 212H118.8zM128.8 207.4H142.1L142.1 212H128.8zM145.4 207.4H158.7L158.7 212H145.4zM165.4 207.4H168.7L168.7 212H165.4zM185.3 207.4H191.9L192 212H185.4zM195.2 207.4H198.6L198.7 212H195.4zM205.2 207.4H208.5L208.7 212H205.4zM211.8 207.4H215.2L215.4 212H212zM225.1 207.4H228.4L228.7 212H225.4zM51.9 216.6H55.2L54.9 221.3H51.6zM65.2 216.6H68.6L68.3 221.3H65zM71.9 216.6H102L101.8 221.3H71.7zM112 216.6H115.3L115.2 221.3H111.9zM118.7 216.6H125.4L125.3 221.3H118.6zM132 216.6H142.1L142 221.3H132zM145.4 216.6H148.7L148.7 221.3H145.4zM155.4 216.6H165.5L165.5 221.3H155.4zM182.2 216.6H185.5L185.6 221.3H182.2zM188.8 216.6H192.2L192.3 221.3H188.9zM212.2 216.6H218.9L219.1 221.3H212.4zM72.2 212H75.5L75.3 216.6H71.9zM78.8 212H85.5L85.3 216.6H78.6zM88.8 212H108.8L108.7 216.6H88.6zM122.1 212H125.4L125.4 216.6H122zM138.8 212H155.4L155.4 216.6H138.7zM158.7 212H162.1L162.1 216.6H158.8zM175.4 212H185.4L185.5 216.6H175.5zM44.9 221.3H85.1L84.9 225.9H44.5zM91.8 221.3H95.1L95 225.9H91.6zM101.8 221.3H105.2L105 225.9H101.7zM108.5 221.3H111.9L111.8 225.9H108.4zM115.2 221.3H118.6L118.5 225.9H115.1zM121.9 221.3H125.3L125.2 225.9H121.8zM132 221.3H135.3L135.3 225.9H131.9zM142 221.3H148.7L148.7 225.9H142zM155.4 221.3H162.1L162.2 225.9H155.5zM168.8 221.3H182.2L182.3 225.9H168.9zM188.9 221.3H195.7L195.8 225.9H189.1zM199 221.3H202.4L202.5 225.9H199.1zM205.7 221.3H209.1L209.2 225.9H205.9zM215.8 221.3H222.5L222.7 225.9H216zM229.2 221.3H232.5L232.8 225.9H229.4zM44.5 225.9H51.3L51 230.5H44.2zM54.6 225.9H61.4L61.1 230.5H54.3zM64.7 225.9H71.4L71.2 230.5H64.4zM84.9 225.9H95L94.8 230.5H84.7zM98.3 225.9H108.4L108.3 230.5H98.2zM115.1 225.9H125.2L125.1 230.5H115zM128.6 225.9H138.7L138.6 230.5H128.5zM145.4 225.9H148.7L148.7 230.5H145.4zM152.1 225.9H155.5L155.5 230.5H152.1zM172.3 225.9H182.3L182.4 230.5H172.3zM192.4 225.9H195.8L195.9 230.5H192.6zM229.4 225.9H232.8L233 230.5H229.6zM47.6 230.5H57.7L57.4 235.1H47.3zM61.1 230.5H67.8L67.6 235.1H60.8zM91.4 230.5H115L114.9 235.1H91.2zM118.4 230.5H121.8L121.7 235.1H118.3zM125.1 230.5H135.2L135.2 235.1H125.1zM148.7 230.5H158.8L158.9 235.1H148.7zM169 230.5H179.1L179.2 235.1H169zM185.8 230.5H189.2L189.3 235.1H185.9zM206 230.5H209.4L209.6 235.1H206.2zM43.9 235.1H47.3L47 239.8H43.6zM50.7 235.1H60.8L60.5 239.8H50.4zM64.2 235.1H67.6L67.3 239.8H63.9zM77.7 235.1H128.4L128.4 239.8H77.5zM131.8 235.1H138.6L138.5 239.8H131.8zM165.6 235.1H169L169.1 239.8H165.7zM175.8 235.1H179.2L179.2 239.8H175.8zM182.5 235.1H189.3L189.4 239.8H182.6zM202.8 235.1H209.6L209.8 239.8H203zM216.3 235.1H226.5L226.7 239.8H216.5zM233.3 235.1H236.6L236.9 239.8H233.5zM47 239.8H70.7L70.5 244.4H46.7zM91.1 239.8H128.4L128.4 244.4H90.9zM138.5 239.8H145.3L145.4 244.4H138.6zM192.8 239.8H199.6L199.9 244.4H193.1zM203 239.8H206.4L206.7 244.4H203.3zM216.5 239.8H230.1L230.5 244.4H216.9zM236.9 239.8H240.3L240.8 244.4H237.4zM43.3 244.4H70.5L70.3 249H42.9zM80.7 244.4H101.1L101.1 249H80.5zM121.6 244.4H125L125 249H121.6zM131.8 244.4H145.4L145.5 249H131.8zM148.8 244.4H152.2L152.3 249H148.9zM169.2 244.4H186.3L186.5 249H169.4zM193.1 244.4H203.3L203.6 249H193.4zM206.7 244.4H216.9L217.3 249H207.1zM227.1 244.4H237.4L237.8 249H227.6zM56.6 249H60L59.8 253.6H56.3zM63.4 249H66.9L66.6 253.6H63.2zM70.3 249H73.7L73.5 253.6H70.1zM80.5 249H87.4L87.2 253.6H80.4zM101.1 249H107.9L107.8 253.6H101zM114.7 249H121.6L121.6 253.6H114.7zM131.8 249H142.1L142.2 253.6H131.9zM159.2 249H162.6L162.8 253.6H159.3zM169.4 249H176.3L176.5 253.6H169.6zM179.7 249H186.5L186.8 253.6H179.9zM193.4 249H196.8L197.1 253.6H193.7zM203.6 249H207.1L207.4 253.6H204zM217.3 249H231L231.4 253.6H217.7zM49.5 253.6H59.8L59.5 258.3H49.2zM66.6 253.6H76.9L76.8 258.3H66.4zM83.8 253.6H87.2L87.1 258.3H83.6zM104.4 253.6H107.8L107.8 258.3H104.3zM118.1 253.6H125L125 258.3H118.1zM131.9 253.6H135.3L135.4 258.3H131.9zM138.7 253.6H142.2L142.2 258.3H138.8zM145.6 253.6H162.8L162.9 258.3H145.7zM173.1 253.6H176.5L176.7 258.3H173.3zM179.9 253.6H190.2L190.5 258.3H180.2zM193.7 253.6H204L204.3 258.3H194zM210.8 253.6H217.7L218.1 258.3H211.2zM224.6 253.6H228L228.4 258.3H225zM238.3 253.6H241.7L242.2 258.3H238.8zM100.9 258.3H107.8L107.7 262.9H100.8zM125 258.3H128.5L128.5 262.9H125zM131.9 258.3H135.4L135.4 262.9H131.9zM138.8 258.3H149.1L149.3 262.9H138.9zM162.9 258.3H190.5L190.8 262.9H163.1zM197.4 258.3H207.7L208.1 262.9H197.7zM211.2 258.3H218.1L218.5 262.9H211.6zM221.5 258.3H225L225.4 262.9H221.9zM76.6 262.9H87L86.8 267.5H76.4zM97.3 262.9H114.6L114.6 267.5H97.2zM118.1 262.9H135.4L135.5 267.5H118.1zM142.3 262.9H145.8L145.9 267.5H142.4zM152.7 262.9H156.2L156.3 267.5H152.8zM166.6 262.9H176.9L177.2 267.5H166.7zM183.9 262.9H190.8L191.1 267.5H184.1zM221.9 262.9H232.3L232.8 267.5H222.3zM69.2 272.1H72.7L72.5 276.8H69zM111.1 272.1H118.1L118.1 276.8H111zM121.6 272.1H128.5L128.6 276.8H121.6zM142.5 272.1H146L146.1 276.8H142.6zM149.5 272.1H153L153.1 276.8H149.6zM156.4 272.1H159.9L160.1 276.8H156.6zM163.4 272.1H166.9L167.1 276.8H163.6zM180.9 272.1H184.4L184.6 276.8H181.1zM194.8 272.1H208.8L209.1 276.8H195.1zM219.3 272.1H226.2L226.6 276.8H219.6zM233.2 272.1H240.2L240.7 276.8H233.7zM72.9 267.5H76.4L76.2 272.1H72.7zM83.3 267.5H86.8L86.7 272.1H83.2zM104.2 267.5H107.7L107.6 272.1H104.1zM114.6 267.5H118.1L118.1 272.1H114.6zM121.6 267.5H152.8L153 272.1H121.6zM159.8 267.5H163.3L163.4 272.1H159.9zM170.2 267.5H173.7L173.9 272.1H170.4zM187.6 267.5H191.1L191.3 272.1H187.8zM211.9 267.5H215.4L215.8 272.1H212.3zM218.9 267.5H225.8L226.2 272.1H219.3zM239.7 267.5H243.2L243.7 272.1H240.2zM75.8 281.4H79.3L79.2 286H75.6zM82.9 281.4H86.4L86.2 286H82.7zM100.4 281.4H104L103.9 286H100.4zM111 281.4H114.5L114.5 286H111zM118 281.4H121.6L121.5 286H118zM153.2 281.4H160.2L160.4 286H153.3zM177.8 281.4H191.9L192.2 286H178zM195.4 281.4H209.5L209.8 286H195.7zM213 281.4H220L220.4 286H213.4zM223.5 281.4H227.1L227.5 286H223.9zM241.1 281.4H244.6L245.1 286H241.6zM100.5 276.8H111L111 281.4H100.4zM121.6 276.8H135.6L135.6 281.4H121.6zM139.1 276.8H142.6L142.7 281.4H139.1zM163.6 276.8H167.1L167.3 281.4H163.8zM174.1 276.8H191.6L191.9 281.4H174.3zM198.6 276.8H205.6L206 281.4H198.9zM216.1 276.8H219.6L220 281.4H216.5zM223.1 276.8H226.6L227.1 281.4H223.5zM233.7 276.8H244.2L244.6 281.4H234.1zM86.2 286H89.8L89.6 290.6H86.1zM103.9 286H114.5L114.5 290.6H103.8zM121.5 286H132.1L132.2 290.6H121.5zM135.7 286H139.2L139.3 290.6H135.7zM146.3 286H153.3L153.4 290.6H146.4zM156.9 286H163.9L164.1 290.6H157zM171 286H188.6L188.9 290.6H171.2zM192.2 286H202.8L203.1 290.6H192.4zM209.8 286H227.5L227.9 290.6H210.2zM234.5 286H238.1L238.5 290.6H235zM107.4 290.6H110.9L110.9 295.3H107.3zM132.2 290.6H135.7L135.8 295.3H132.2zM142.8 290.6H146.4L146.5 295.3H142.9zM149.9 290.6H160.5L160.7 295.3H150zM164.1 290.6H171.2L171.4 295.3H164.2zM178.3 290.6H185.4L185.6 295.3H178.5zM192.4 290.6H196L196.3 295.3H192.7zM199.5 290.6H203.1L203.4 295.3H199.8zM206.6 290.6H227.9L228.3 295.3H207zM96.6 295.3H100.2L100.1 299.9H96.5zM110.9 295.3H125.1L125.1 299.9H110.8zM135.8 295.3H164.2L164.4 299.9H135.8zM174.9 295.3H178.5L178.7 299.9H175.1zM182 295.3H185.6L185.9 299.9H182.3zM189.2 295.3H228.3L228.7 299.9H189.4zM231.9 295.3H235.4L235.9 299.9H232.3zM103.7 299.9H121.5L121.5 304.5H103.5zM125.1 299.9H139.4L139.4 304.5H125zM150.1 299.9H153.7L153.7 304.5H150.1zM160.8 299.9H164.4L164.4 304.5H160.9zM168 299.9H182.3L182.4 304.5H168zM185.9 299.9H189.4L189.5 304.5H185.9zM193 299.9H196.6L196.7 304.5H193.1zM200.1 299.9H210.9L211 304.5H200.3zM214.4 299.9H246.6L246.9 304.5H214.6zM110.7 304.5H121.5L121.4 309.1H110.6zM132.2 304.5H135.8L135.7 309.1H132.1zM146.5 304.5H150.1L150.1 309.1H146.5zM160.9 304.5H164.4L164.5 309.1H160.9zM168 304.5H182.4L182.4 309.1H168.1zM185.9 304.5H189.5L189.6 309.1H186zM193.1 304.5H200.3L200.4 309.1H193.2zM211 304.5H221.8L222 309.1H211.2zM225.4 304.5H239.7L239.9 309.1H225.6zM110.6 309.1H117.8L117.7 313.8H110.5zM125 309.1H128.5L128.5 313.8H124.9zM132.1 309.1H139.3L139.3 313.8H132.1zM153.7 309.1H157.3L157.3 313.8H153.7zM164.5 309.1H186L186.1 313.8H164.5zM189.6 309.1H193.2L193.3 313.8H189.7zM196.8 309.1H200.4L200.5 313.8H196.9zM204 309.1H247.1L247.4 313.8H204.2zM164.5 313.8H196.9L197.1 318.4H164.5zM204.2 313.8H247.4L247.7 318.4H204.3zM132 318.4H135.6L135.6 323H132zM142.9 318.4H146.5L146.5 323H142.8zM160.9 318.4H171.8L171.8 323H161zM175.4 318.4H182.6L182.7 323H175.4zM189.8 318.4H197.1L197.2 323H189.9zM200.7 318.4H244L244.3 323H200.8zM124.7 323H128.3L128.3 327.6H124.6zM142.8 323H157.3L157.3 327.6H142.8zM161 323H168.2L168.2 327.6H161zM171.8 323H200.8L200.9 327.6H171.9zM204.4 323H244.3L244.6 327.6H204.6zM124.6 327.6H128.3L128.2 332.3H124.6zM131.9 327.6H135.5L135.5 332.3H131.8zM150.1 327.6H157.3L157.4 332.3H150.1zM161 327.6H164.6L164.6 332.3H161zM168.2 327.6H197.3L197.4 332.3H168.3zM200.9 327.6H204.6L204.7 332.3H201.1zM211.9 327.6H222.8L222.9 332.3H212zM226.4 327.6H237.3L237.5 332.3H226.6zM131.8 332.3H146.4L146.4 336.9H131.8zM153.7 332.3H168.3L168.3 336.9H153.7zM171.9 332.3H179.2L179.3 336.9H172zM186.5 332.3H222.9L223.1 336.9H186.6zM226.6 332.3H233.9L234.1 336.9H226.8zM241.2 332.3H248.5L248.7 336.9H241.4zM139.1 336.9H197.6L197.7 341.5H139.1zM201.2 336.9H245.1L245.3 341.5H201.3zM135.4 341.5H153.7L153.7 346.1H135.3zM157.4 341.5H183L183.1 346.1H157.4zM197.7 341.5H216L216.2 346.1H197.8zM219.7 341.5H223.3L223.5 346.1H219.9zM227 341.5H230.7L230.9 346.1H227.2zM234.3 341.5H249L249.3 346.1H234.6zM142.7 346.1H150L150 350.8H142.7zM153.7 346.1H223.5L223.7 350.8H153.7zM238.2 346.1H241.9L242.1 350.8H238.5zM142.7 350.8H183.2L183.3 355.4H142.6zM201.6 350.8H209L209.1 355.4H201.8zM212.7 350.8H223.7L223.9 355.4H212.8zM234.8 350.8H238.5L238.7 355.4H235zM245.8 350.8H249.5L249.8 355.4H246.1zM142.6 355.4H183.3L183.4 360H142.6zM201.8 355.4H220.2L220.4 360H201.9zM223.9 355.4H235L235.2 360H224.1zM246.1 355.4H249.8L250.1 360H246.3zM146.3 360H150L150 364.6H146.3zM153.7 360H168.5L168.6 364.6H153.7zM172.2 360H198.2L198.3 364.6H172.3zM201.9 360H220.4L220.6 364.6H202zM224.1 360H231.5L231.7 364.6H224.3zM238.9 360H250.1L250.3 364.6H239.2zM142.5 369.3H150L150 373.9H142.5zM153.7 369.3H194.7L194.8 373.9H153.7zM205.9 369.3H209.6L209.8 373.9H206zM213.3 369.3H228.2L228.4 373.9H213.5zM239.4 369.3H250.6L250.8 373.9H239.6zM146.3 364.6H150L150 369.3H146.3zM153.7 364.6H157.4L157.4 369.3H153.7zM172.3 364.6H183.4L183.5 369.3H172.3zM187.2 364.6H194.6L194.7 369.3H187.3zM202 364.6H220.6L220.8 369.3H202.2zM224.3 364.6H228L228.2 369.3H224.5zM138.8 373.9H142.5L142.5 378.5H138.7zM153.7 373.9H187.3L187.4 378.5H153.7zM191.1 373.9H194.8L194.9 378.5H191.2zM198.6 373.9H202.3L202.4 378.5H198.7zM213.5 373.9H224.7L224.9 378.5H213.7zM228.4 373.9H239.6L239.9 378.5H228.6zM243.4 373.9H247.1L247.4 378.5H243.6zM161.2 378.5H176.2L176.3 383.1H161.3zM179.9 378.5H224.9L225.1 383.1H180zM228.6 378.5H236.1L236.4 383.1H228.9zM243.6 378.5H251.1L251.4 383.1H243.9zM176.3 383.1H210.1L210.3 387.8H176.4zM217.6 383.1H225.1L225.3 387.8H217.8zM228.9 383.1H232.6L232.9 387.8H229.1zM240.1 383.1H247.7L247.9 387.8H240.4zM153.8 392.4H157.6L157.6 397H153.8zM165.1 392.4H176.5L176.5 397H165.2zM180.2 392.4H218L218.2 397H180.3zM221.8 392.4H248.2L248.5 397H222zM180.1 387.8H206.5L206.7 392.4H180.2zM210.3 387.8H217.8L218 392.4H210.5zM221.6 387.8H240.4L240.7 392.4H221.8zM247.9 387.8H251.7L252 392.4H248.2zM157.6 401.6H161.4L161.5 406.3H157.7zM169 401.6H172.8L172.9 406.3H169.1zM176.6 401.6H188L188.2 406.3H176.7zM191.8 401.6H199.4L199.6 406.3H192zM203.2 401.6H229.8L230.1 406.3H203.4zM233.6 401.6H241.2L241.5 406.3H233.9zM165.2 397H184.1L184.2 401.6H165.2zM191.7 397H229.6L229.8 401.6H191.8zM233.4 397H241L241.2 401.6H233.6zM153.9 406.3H157.7L157.7 410.9H153.9zM161.5 406.3H165.3L165.3 410.9H161.5zM172.9 406.3H203.4L203.6 410.9H173zM207.2 406.3H211L211.2 410.9H207.4zM218.6 406.3H237.7L238 410.9H218.8zM245.3 406.3H249.1L249.4 410.9H245.6zM157.7 415.5H161.6L161.6 420.1H157.8zM169.2 415.5H188.4L188.5 420.1H169.3zM199.9 415.5H211.4L211.6 420.1H200zM219.1 415.5H238.2L238.5 420.1H219.3zM176.8 410.9H188.3L188.4 415.5H176.9zM192.1 410.9H207.4L207.6 415.5H192.2zM211.2 410.9H215L215.2 415.5H211.4zM218.8 410.9H230.3L230.5 415.5H219.1zM241.8 410.9H249.4L249.7 415.5H242zM165.5 420.1H169.3L169.4 424.8H165.5zM177 420.1H184.7L184.8 424.8H177.1zM196.2 420.1H207.7L207.9 424.8H196.3zM211.6 420.1H215.4L215.6 424.8H211.8zM226.9 420.1H230.8L231 424.8H227.2zM173.2 424.8H188.6L188.8 429.4H173.3zM192.5 424.8H204.1L204.2 429.4H192.6zM211.8 424.8H215.6L215.8 429.4H211.9zM234.9 424.8H238.7L239 429.4H235.1zM165.6 429.4H181L181.1 434H165.6zM184.9 429.4H188.8L188.9 434H185zM192.6 429.4H196.5L196.6 434H192.8zM204.2 429.4H211.9L212.1 434H204.4zM215.8 429.4H227.4L227.6 434H216zM97.6 73.3H103.6L103.4 77.9H97.4zM72.3 91.8H78.4L78.2 96.4H72.1zM72.1 96.4H75.1L74.9 101H71.8zM74.9 101H78L77.7 105.6H74.6zM65.3 105.6H77.7L77.5 110.3H65.1zM52.6 110.3H55.7L55.4 114.9H52.3zM65.1 110.3H71.3L71 114.9H64.8zM74.4 110.3H77.5L77.2 114.9H74.1zM67.9 114.9H74.1L73.9 119.5H67.6zM64.5 119.5H67.6L67.3 124.1H64.2zM89.3 124.1H95.6L95.4 128.8H89.1zM51.3 128.8H54.5L54.2 133.4H51zM89.1 128.8H92.2L92.1 133.4H88.9zM85.7 133.4H88.9L88.7 138H85.5zM182.4 82.5H185.5L185.6 87.1H182.5z"/><path fill="#446ca4" d="M197.1 161.1H200.3L200.5 165.8H197.2zM106.4 179.6H113L112.8 184.3H106.3zM106 193.5H109.3L109.2 198.1H105.9zM198.1 193.5H204.7L204.9 198.1H198.3zM63 198.1H66.3L66 202.8H62.7zM72.9 198.1H76.2L76 202.8H72.6zM49.5 202.8H52.8L52.5 207.4H49.2zM56.1 202.8H62.7L62.4 207.4H55.8zM69.3 202.8H72.6L72.4 207.4H69.1zM49.2 207.4H55.8L55.5 212H48.8zM82.4 207.4H85.7L85.5 212H82.1zM142.1 207.4H145.4L145.4 212H142.1zM45.2 216.6H51.9L51.6 221.3H44.9zM55.2 216.6H65.2L65 221.3H54.9zM52.2 212H65.5L65.2 216.6H51.9zM71.4 225.9H74.8L74.6 230.5H71.2zM67.8 230.5H81.3L81.1 235.1H67.6zM60.8 235.1H64.2L63.9 239.8H60.5zM67.6 235.1H77.7L77.5 239.8H67.3zM70.7 239.8H80.9L80.7 244.4H70.5zM70.5 244.4H73.9L73.7 249H70.3zM77.3 244.4H80.7L80.5 249H77.1zM101.1 244.4H114.8L114.7 249H101.1zM118.2 244.4H121.6L121.6 249H118.2zM60 249H63.4L63.2 253.6H59.8zM73.7 249H80.5L80.4 253.6H73.5zM87.4 249H90.8L90.7 253.6H87.2zM94.2 249H101.1L101 253.6H94.1zM107.9 249H114.7L114.7 253.6H107.8zM142.1 249H145.5L145.6 253.6H142.2zM231 249H234.4L234.9 253.6H231.4zM63.2 253.6H66.6L66.4 258.3H63zM76.9 253.6H80.4L80.2 258.3H76.8zM87.2 253.6H104.4L104.3 258.3H87.1zM107.8 253.6H118.1L118.1 258.3H107.8zM125 253.6H128.4L128.5 258.3H125zM228 253.6H238.3L238.8 258.3H228.4zM63 258.3H66.4L66.2 262.9H62.7zM69.9 258.3H73.3L73.1 262.9H69.6zM76.8 258.3H80.2L80 262.9H76.6zM87.1 258.3H97.4L97.3 262.9H87zM107.8 258.3H125L125 262.9H107.7zM225 258.3H231.9L232.3 262.9H225.4zM235.3 258.3H242.2L242.7 262.9H235.8zM87 262.9H97.3L97.2 267.5H86.8zM114.6 262.9H118.1L118.1 267.5H114.6zM176.9 262.9H180.4L180.6 267.5H177.2zM232.3 262.9H239.2L239.7 267.5H232.8zM86.7 272.1H93.6L93.5 276.8H86.5zM97.1 272.1H100.6L100.5 276.8H97zM104.1 272.1H111.1L111 276.8H104zM118.1 272.1H121.6L121.6 276.8H118.1zM226.2 272.1H233.2L233.7 276.8H226.6zM240.2 272.1H243.7L244.2 276.8H240.7zM90.3 267.5H93.8L93.6 272.1H90.2zM97.2 267.5H104.2L104.1 272.1H97.1zM107.7 267.5H114.6L114.6 272.1H107.6zM118.1 267.5H121.6L121.6 272.1H118.1zM232.8 267.5H239.7L240.2 272.1H233.2zM89.9 281.4H93.4L93.3 286H89.8zM96.9 281.4H100.4L100.4 286H96.8zM107.5 281.4H111L111 286H107.4zM114.5 281.4H118L118 286H114.5zM121.6 281.4H135.6L135.7 286H121.5zM142.7 281.4H146.2L146.3 286H142.7zM227.1 281.4H241.1L241.6 286H227.5zM111 276.8H118.1L118 281.4H111zM230.1 276.8H233.7L234.1 281.4H230.6zM89.8 286H93.3L93.2 290.6H89.6zM96.8 286H103.9L103.8 290.6H96.7zM114.5 286H118L118 290.6H114.5zM132.1 286H135.7L135.7 290.6H132.2zM139.2 286H146.3L146.4 290.6H139.3zM227.5 286H234.5L235 290.6H227.9zM238.1 286H245.1L245.6 290.6H238.5zM96.7 290.6H100.3L100.2 295.3H96.6zM103.8 290.6H107.4L107.3 295.3H103.7zM110.9 290.6H125.1L125.1 295.3H110.9zM135.7 290.6H142.8L142.9 295.3H135.8zM227.9 290.6H245.6L246.1 295.3H228.3zM100.2 295.3H110.9L110.8 299.9H100.1zM125.1 295.3H135.8L135.8 299.9H125.1zM235.4 295.3H242.5L243 299.9H235.9zM121.5 299.9H125.1L125 304.5H121.5zM139.4 299.9H150.1L150.1 304.5H139.4zM153.7 299.9H160.8L160.9 304.5H153.7zM125 304.5H128.6L128.5 309.1H125zM139.4 304.5H146.5L146.5 309.1H139.3zM150.1 304.5H160.9L160.9 309.1H150.1zM239.7 304.5H243.3L243.5 309.1H239.9zM121.4 309.1H125L124.9 313.8H121.3zM139.3 309.1H150.1L150.1 313.8H139.3zM157.3 309.1H160.9L160.9 313.8H157.3zM186 309.1H189.6L189.7 313.8H186.1zM128.5 313.8H142.9L142.9 318.4H128.4zM153.7 313.8H160.9L160.9 318.4H153.7zM135.6 318.4H142.9L142.8 323H135.6zM146.5 318.4H160.9L161 323H146.5zM171.8 318.4H175.4L175.4 323H171.8zM182.6 318.4H189.8L189.9 323H182.7zM139.2 323H142.8L142.8 327.6H139.2zM157.3 323H161L161 327.6H157.3zM200.8 323H204.4L204.6 327.6H200.9zM135.5 327.6H150.1L150.1 332.3H135.5zM157.3 327.6H161L161 332.3H157.4zM164.6 327.6H168.2L168.3 332.3H164.6zM204.6 327.6H211.9L212 332.3H204.7zM150.1 332.3H153.7L153.7 336.9H150.1zM182.9 332.3H186.5L186.6 336.9H182.9zM183 341.5H190.4L190.5 346.1H183.1zM150 346.1H153.7L153.7 350.8H150zM183.2 350.8H201.6L201.8 355.4H183.3zM231.1 350.8H234.8L235 355.4H231.3zM183.3 355.4H198.1L198.2 360H183.4zM238.7 355.4H242.4L242.6 360H238.9zM220.4 360H224.1L224.3 364.6H220.6zM235.2 360H238.9L239.2 364.6H235.5zM194.7 369.3H205.9L206 373.9H194.8zM209.6 369.3H213.3L213.5 373.9H209.8zM183.4 364.6H187.2L187.3 369.3H183.5zM194.6 364.6H202L202.2 369.3H194.7zM228 364.6H231.7L232 369.3H228.2zM194.8 373.9H198.6L198.7 378.5H194.9zM202.3 373.9H213.5L213.7 378.5H202.4zM239.9 378.5H243.6L243.9 383.1H240.1zM165 383.1H168.8L168.8 387.8H165.1zM210.1 383.1H217.6L217.8 387.8H210.3zM232.6 383.1H240.1L240.4 387.8H232.9zM165.1 387.8H168.8L168.9 392.4H165.1z"/><path fill="#5f93c0" d="M109.6 184.3H112.8L112.7 188.9H109.4zM53.1 198.1H56.4L56.1 202.8H52.8zM52.8 202.8H56.1L55.8 207.4H52.5zM211.7 202.8H215L215.2 207.4H211.8zM165.5 216.6H168.8L168.8 221.3H165.5zM218.9 216.6H222.2L222.5 221.3H219.1zM48.8 212H52.2L51.9 216.6H48.5zM162.1 212H168.7L168.8 216.6H162.1zM61.4 225.9H64.7L64.4 230.5H61.1zM226.5 235.1H233.3L233.5 239.8H226.7zM216.9 244.4H227.1L227.6 249H217.3zM90.8 249H94.2L94.1 253.6H90.7zM97.4 258.3H100.9L100.8 262.9H97.3zM231.9 258.3H235.3L235.8 262.9H232.3zM177.4 272.1H180.9L181.1 276.8H177.6zM86.8 267.5H90.3L90.2 272.1H86.7zM225.8 267.5H232.8L233.2 272.1H226.2zM118.1 276.8H121.6L121.6 281.4H118zM226.6 276.8H230.1L230.6 281.4H227.1zM118 286H121.5L121.5 290.6H118zM125.1 290.6H132.2L132.2 295.3H125.1zM146.4 290.6H149.9L150 295.3H146.5zM121.5 304.5H125L125 309.1H121.4zM128.6 304.5H132.2L132.1 309.1H128.5zM150.1 309.1H153.7L153.7 313.8H150.1zM142.9 313.8H146.5L146.5 318.4H142.9zM222.8 327.6H226.4L226.6 332.3H222.9zM237.3 327.6H240.9L241.2 332.3H237.5zM146.4 332.3H150.1L150.1 336.9H146.4zM153.7 341.5H157.4L157.4 346.1H153.7zM198.1 355.4H201.8L201.9 360H198.2zM224.7 373.9H228.4L228.6 378.5H224.9zM247.1 373.9H250.8L251.1 378.5H247.4zM172.8 401.6H176.6L176.7 406.3H172.9zM161.7 424.8H165.5L165.6 429.4H161.7z"/><path fill="#93c4d9" d="M217 175H220.3L220.5 179.6H217.2zM207.6 184.3H210.9L211.1 188.9H207.8zM49.8 198.1H53.1L52.8 202.8H49.5zM171.9 198.1H175.2L175.2 202.8H171.9zM215.2 207.4H218.5L218.7 212H215.4zM228.3 295.3H231.9L232.3 299.9H228.7zM146.5 313.8H153.7L153.7 318.4H146.5zM135.6 323H139.2L139.2 327.6H135.5zM150 360H153.7L153.7 364.6H150zM224.9 378.5H228.6L228.9 383.1H225.1z"/><path fill="#d3e6ec" d="M171.8 193.5H175.1L175.2 198.1H171.9zM218.5 207.4H221.8L222 212H218.7zM51.3 225.9H54.6L54.3 230.5H51zM226.3 230.5H229.6L229.9 235.1H226.5zM233 230.5H236.4L236.6 235.1H233.3zM66.9 249H70.3L70.1 253.6H66.6zM66.4 258.3H69.9L69.6 262.9H66.2zM73.3 258.3H76.8L76.6 262.9H73.1zM100.6 272.1H104.1L104 276.8H100.5zM104 281.4H107.5L107.4 286H103.9zM135.8 304.5H139.4L139.3 309.1H135.7zM160.9 309.1H164.5L164.5 313.8H160.9z"/><path fill="#fee8a8" d="M212.8 151.9H216L216.2 156.5H213z"/><path fill="#fed976" d="M221.6 202.8H224.9L225.1 207.4H221.8zM233.5 239.8H236.9L237.4 244.4H234z"/><path fill="#fdae45" d="M57.7 230.5H61.1L60.8 235.1H57.4zM93.8 267.5H97.2L97.1 272.1H93.6z"/><path fill="#f98a35" d="M217.4 184.3H220.7L220.9 188.9H217.7zM230.1 239.8H233.5L234 244.4H230.5z"/><path fill="#f03b20" d="M216 151.9H219.2L219.4 156.5H216.2z"/><path fill="#c8102a" d="M221.8 207.4H225.1L225.4 212H222z"/><path fill="#efeacb" d="M73.9 244.4H77.3L77.1 249H73.7z"/><path fill="#5f93a3" d="M194.2 170.4H197.4L197.5 175H194.3z"/>
</g></g>
<g transform="translate(302.2 0)"><use href="#grid"/><use href="#abo"/><use href="#lab"/></g>
</g>
<g clip-path="url(#c2)"><g filter="url(#bl)">
<rect x="1" y="496.7" width="264" height="402.8" fill="#2b2a2a"/>
<g transform="translate(11.5 456.5)">
<use href="#base"/>
<path fill="#333b8f" d="M59.9 142.6H66.3L66 147.3H59.6zM164.7 142.6H167.9L168 147.3H164.8zM50 147.3H66L65.7 151.9H49.7zM72.4 147.3H81.9L81.7 151.9H72.1zM148.9 147.3H152L152 151.9H148.8zM49.7 151.9H52.9L52.6 156.5H49.4zM56.1 151.9H59.3L59 156.5H55.8zM72.1 151.9H75.3L75.1 156.5H71.9zM81.7 151.9H88.1L87.9 156.5H81.5zM148.8 151.9H152L152 156.5H148.8zM78 161.1H81.3L81 165.8H77.8zM119.9 161.1H123.1L123 165.8H119.8zM126.3 161.1H129.5L129.5 165.8H126.2zM145.6 161.1H148.8L148.8 165.8H145.6zM152 161.1H158.5L158.5 165.8H152.1zM181 161.1H184.2L184.3 165.8H181.1zM81.5 156.5H84.7L84.5 161.1H81.3zM148.8 156.5H158.5L158.5 161.1H148.8zM48.8 165.8H52L51.7 170.4H48.4zM68.1 165.8H71.4L71.1 170.4H67.9zM119.8 165.8H123L122.9 170.4H119.7zM126.2 165.8H132.7L132.6 170.4H126.1zM135.9 165.8H139.1L139.1 170.4H135.9zM145.6 165.8H148.8L148.8 170.4H145.6zM155.3 165.8H158.5L158.5 170.4H155.3zM161.7 165.8H165L165 170.4H161.8zM190.8 165.8H194L194.2 170.4H190.9zM48.4 170.4H54.9L54.6 175H48.1zM58.1 170.4H71.1L70.8 175H57.9zM74.3 170.4H77.6L77.3 175H74.1zM84.1 170.4H87.3L87.1 175H83.8zM119.7 170.4H126.1L126.1 175H119.6zM129.4 170.4H135.9L135.8 175H129.3zM145.6 170.4H148.8L148.8 175H145.6zM48.1 175H57.9L57.6 179.6H47.8zM61.1 175H64.3L64.1 179.6H60.8zM67.6 175H70.8L70.6 179.6H67.3zM80.6 175H83.8L83.6 179.6H80.4zM113.1 175H139.1L139 179.6H113zM148.8 175H152.1L152.1 179.6H148.8zM207.3 175H210.5L210.7 179.6H207.5zM47.8 179.6H70.6L70.3 184.3H47.5zM93.4 179.6H96.7L96.5 184.3H93.2zM103.2 179.6H106.4L106.3 184.3H103zM113 179.6H119.5L119.4 184.3H112.8zM126 179.6H139L139 184.3H125.9zM47.5 184.3H67.1L66.8 188.9H47.1zM70.3 184.3H76.9L76.6 188.9H70.1zM80.1 184.3H83.4L83.2 188.9H79.9zM103 184.3H106.3L106.2 188.9H102.9zM112.8 184.3H116.1L116 188.9H112.7zM119.4 184.3H129.2L129.1 188.9H119.3zM132.5 184.3H135.7L135.7 188.9H132.4zM165.1 184.3H171.7L171.7 188.9H165.2zM194.6 184.3H197.8L198 188.9H194.7zM204.4 184.3H207.6L207.8 188.9H204.5zM210.9 184.3H214.2L214.4 188.9H211.1zM217.4 184.3H220.7L220.9 188.9H217.7zM47.1 188.9H66.8L66.5 193.5H46.8zM73.4 188.9H76.6L76.4 193.5H73.1zM79.9 188.9H86.5L86.3 193.5H79.7zM93 188.9H99.6L99.4 193.5H92.9zM102.9 188.9H116L115.9 193.5H102.7zM119.3 188.9H122.6L122.5 193.5H119.2zM125.8 188.9H132.4L132.3 193.5H125.8zM135.7 188.9H152.1L152.1 193.5H135.6zM155.3 188.9H158.6L158.6 193.5H155.4zM161.9 188.9H165.2L165.2 193.5H161.9zM46.8 193.5H60L59.7 198.1H46.5zM73.1 193.5H76.4L76.2 198.1H72.9zM102.7 193.5H106L105.9 198.1H102.6zM109.3 193.5H112.6L112.5 198.1H109.2zM119.2 193.5H145.5L145.5 198.1H119.1zM188.3 193.5H191.5L191.7 198.1H188.4zM56.4 198.1H63L62.7 202.8H56.1zM76.2 198.1H92.7L92.5 202.8H76zM99.3 198.1H102.6L102.4 202.8H99.1zM109.2 198.1H115.8L115.7 202.8H109.1zM122.4 198.1H125.7L125.6 202.8H122.3zM129 198.1H132.3L132.2 202.8H128.9zM142.2 198.1H145.5L145.5 202.8H142.1zM148.8 198.1H155.4L155.4 202.8H148.8zM158.7 198.1H162L162 202.8H158.7zM204.9 198.1H208.2L208.3 202.8H205zM46.2 202.8H49.5L49.2 207.4H45.8zM66 202.8H69.3L69.1 207.4H65.8zM76 202.8H95.8L95.6 207.4H75.7zM99.1 202.8H102.4L102.3 207.4H99zM105.7 202.8H115.7L115.6 207.4H105.6zM128.9 202.8H145.5L145.4 207.4H128.8zM152.1 202.8H158.7L158.7 207.4H152.1zM185.2 202.8H191.8L191.9 207.4H185.3zM218.3 202.8H221.6L221.8 207.4H218.5zM55.8 207.4H69.1L68.8 212H55.5zM72.4 207.4H82.4L82.1 212H72.2zM85.7 207.4H92.3L92.1 212H85.5zM95.6 207.4H112.2L112.1 212H95.5zM118.9 207.4H125.5L125.4 212H118.8zM128.8 207.4H138.8L138.8 212H128.8zM145.4 207.4H158.7L158.7 212H145.4zM165.4 207.4H168.7L168.7 212H165.4zM185.3 207.4H191.9L192 212H185.4zM195.2 207.4H198.6L198.7 212H195.4zM205.2 207.4H208.5L208.7 212H205.4zM211.8 207.4H215.2L215.4 212H212zM225.1 207.4H228.4L228.7 212H225.4zM51.9 216.6H55.2L54.9 221.3H51.6zM65.2 216.6H68.6L68.3 221.3H65zM71.9 216.6H102L101.8 221.3H71.7zM112 216.6H115.3L115.2 221.3H111.9zM118.7 216.6H125.4L125.3 221.3H118.6zM132 216.6H142.1L142 221.3H132zM155.4 216.6H165.5L165.5 221.3H155.4zM182.2 216.6H185.5L185.6 221.3H182.2zM188.8 216.6H192.2L192.3 221.3H188.9zM212.2 216.6H218.9L219.1 221.3H212.4zM72.2 212H75.5L75.3 216.6H71.9zM78.8 212H85.5L85.3 216.6H78.6zM88.8 212H108.8L108.7 216.6H88.6zM122.1 212H125.4L125.4 216.6H122zM138.8 212H155.4L155.4 216.6H138.7zM158.7 212H162.1L162.1 216.6H158.8zM175.4 212H182.1L182.2 216.6H175.5zM44.9 221.3H85.1L84.9 225.9H44.5zM91.8 221.3H95.1L95 225.9H91.6zM101.8 221.3H105.2L105 225.9H101.7zM108.5 221.3H111.9L111.8 225.9H108.4zM115.2 221.3H118.6L118.5 225.9H115.1zM121.9 221.3H125.3L125.2 225.9H121.8zM132 221.3H135.3L135.3 225.9H131.9zM142 221.3H148.7L148.7 225.9H142zM155.4 221.3H162.1L162.2 225.9H155.5zM168.8 221.3H182.2L182.3 225.9H168.9zM188.9 221.3H195.7L195.8 225.9H189.1zM199 221.3H202.4L202.5 225.9H199.1zM205.7 221.3H209.1L209.2 225.9H205.9zM215.8 221.3H222.5L222.7 225.9H216zM229.2 221.3H232.5L232.8 225.9H229.4zM44.5 225.9H51.3L51 230.5H44.2zM54.6 225.9H61.4L61.1 230.5H54.3zM64.7 225.9H71.4L71.2 230.5H64.4zM84.9 225.9H95L94.8 230.5H84.7zM98.3 225.9H108.4L108.3 230.5H98.2zM115.1 225.9H125.2L125.1 230.5H115zM128.6 225.9H138.7L138.6 230.5H128.5zM145.4 225.9H148.7L148.7 230.5H145.4zM152.1 225.9H155.5L155.5 230.5H152.1zM172.3 225.9H182.3L182.4 230.5H172.3zM192.4 225.9H195.8L195.9 230.5H192.6zM229.4 225.9H232.8L233 230.5H229.6zM47.6 230.5H57.7L57.4 235.1H47.3zM61.1 230.5H67.8L67.6 235.1H60.8zM91.4 230.5H115L114.9 235.1H91.2zM118.4 230.5H121.8L121.7 235.1H118.3zM125.1 230.5H135.2L135.2 235.1H125.1zM148.7 230.5H158.8L158.9 235.1H148.7zM169 230.5H179.1L179.2 235.1H169zM185.8 230.5H189.2L189.3 235.1H185.9zM206 230.5H209.4L209.6 235.1H206.2zM43.9 235.1H47.3L47 239.8H43.6zM50.7 235.1H60.8L60.5 239.8H50.4zM64.2 235.1H67.6L67.3 239.8H63.9zM77.7 235.1H128.4L128.4 239.8H77.5zM131.8 235.1H138.6L138.5 239.8H131.8zM165.6 235.1H169L169.1 239.8H165.7zM175.8 235.1H179.2L179.2 239.8H175.8zM182.5 235.1H189.3L189.4 239.8H182.6zM202.8 235.1H209.6L209.8 239.8H203zM216.3 235.1H226.5L226.7 239.8H216.5zM233.3 235.1H236.6L236.9 239.8H233.5zM47 239.8H70.7L70.5 244.4H46.7zM91.1 239.8H128.4L128.4 244.4H90.9zM138.5 239.8H141.9L142 244.4H138.6zM192.8 239.8H199.6L199.9 244.4H193.1zM203 239.8H206.4L206.7 244.4H203.3zM216.5 239.8H230.1L230.5 244.4H216.9zM236.9 239.8H240.3L240.8 244.4H237.4zM43.3 244.4H67.1L66.9 249H42.9zM80.7 244.4H101.1L101.1 249H80.5zM121.6 244.4H125L125 249H121.6zM131.8 244.4H145.4L145.5 249H131.8zM148.8 244.4H152.2L152.3 249H148.9zM169.2 244.4H186.3L186.5 249H169.4zM193.1 244.4H203.3L203.6 249H193.4zM206.7 244.4H216.9L217.3 249H207.1zM227.1 244.4H237.4L237.8 249H227.6zM56.6 249H60L59.8 253.6H56.3zM63.4 249H66.9L66.6 253.6H63.2zM70.3 249H73.7L73.5 253.6H70.1zM80.5 249H87.4L87.2 253.6H80.4zM101.1 249H107.9L107.8 253.6H101zM131.8 249H142.1L142.2 253.6H131.9zM159.2 249H162.6L162.8 253.6H159.3zM169.4 249H176.3L176.5 253.6H169.6zM179.7 249H186.5L186.8 253.6H179.9zM193.4 249H196.8L197.1 253.6H193.7zM203.6 249H207.1L207.4 253.6H204zM217.3 249H231L231.4 253.6H217.7zM49.5 253.6H59.8L59.5 258.3H49.2zM66.6 253.6H76.9L76.8 258.3H66.4zM83.8 253.6H87.2L87.1 258.3H83.6zM104.4 253.6H107.8L107.8 258.3H104.3zM118.1 253.6H125L125 258.3H118.1zM131.9 253.6H135.3L135.4 258.3H131.9zM138.7 253.6H142.2L142.2 258.3H138.8zM145.6 253.6H162.8L162.9 258.3H145.7zM173.1 253.6H176.5L176.7 258.3H173.3zM179.9 253.6H190.2L190.5 258.3H180.2zM193.7 253.6H204L204.3 258.3H194zM210.8 253.6H217.7L218.1 258.3H211.2zM238.3 253.6H241.7L242.2 258.3H238.8zM100.9 258.3H107.8L107.7 262.9H100.8zM125 258.3H128.5L128.5 262.9H125zM131.9 258.3H135.4L135.4 262.9H131.9zM138.8 258.3H149.1L149.3 262.9H138.9zM162.9 258.3H190.5L190.8 262.9H163.1zM197.4 258.3H207.7L208.1 262.9H197.7zM211.2 258.3H218.1L218.5 262.9H211.6zM221.5 258.3H225L225.4 262.9H221.9zM76.6 262.9H87L86.8 267.5H76.4zM97.3 262.9H114.6L114.6 267.5H97.2zM118.1 262.9H135.4L135.5 267.5H118.1zM142.3 262.9H145.8L145.9 267.5H142.4zM152.7 262.9H156.2L156.3 267.5H152.8zM166.6 262.9H176.9L177.2 267.5H166.7zM183.9 262.9H190.8L191.1 267.5H184.1zM221.9 262.9H232.3L232.8 267.5H222.3zM69.2 272.1H72.7L72.5 276.8H69zM111.1 272.1H118.1L118.1 276.8H111zM121.6 272.1H128.5L128.6 276.8H121.6zM142.5 272.1H146L146.1 276.8H142.6zM149.5 272.1H153L153.1 276.8H149.6zM156.4 272.1H159.9L160.1 276.8H156.6zM163.4 272.1H166.9L167.1 276.8H163.6zM180.9 272.1H184.4L184.6 276.8H181.1zM194.8 272.1H208.8L209.1 276.8H195.1zM219.3 272.1H226.2L226.6 276.8H219.6zM233.2 272.1H236.7L237.2 276.8H233.7zM72.9 267.5H76.4L76.2 272.1H72.7zM83.3 267.5H86.8L86.7 272.1H83.2zM104.2 267.5H107.7L107.6 272.1H104.1zM114.6 267.5H118.1L118.1 272.1H114.6zM121.6 267.5H152.8L153 272.1H121.6zM159.8 267.5H163.3L163.4 272.1H159.9zM170.2 267.5H173.7L173.9 272.1H170.4zM187.6 267.5H191.1L191.3 272.1H187.8zM211.9 267.5H215.4L215.8 272.1H212.3zM218.9 267.5H225.8L226.2 272.1H219.3zM75.8 281.4H79.3L79.2 286H75.6zM100.4 281.4H104L103.9 286H100.4zM153.2 281.4H160.2L160.4 286H153.3zM177.8 281.4H191.9L192.2 286H178zM195.4 281.4H209.5L209.8 286H195.7zM213 281.4H220L220.4 286H213.4zM223.5 281.4H227.1L227.5 286H223.9zM241.1 281.4H244.6L245.1 286H241.6zM104 276.8H111L111 281.4H104zM121.6 276.8H135.6L135.6 281.4H121.6zM139.1 276.8H142.6L142.7 281.4H139.1zM163.6 276.8H167.1L167.3 281.4H163.8zM174.1 276.8H191.6L191.9 281.4H174.3zM198.6 276.8H205.6L206 281.4H198.9zM216.1 276.8H219.6L220 281.4H216.5zM223.1 276.8H226.6L227.1 281.4H223.5zM233.7 276.8H237.2L237.6 281.4H234.1zM240.7 276.8H244.2L244.6 281.4H241.1zM86.2 286H89.8L89.6 290.6H86.1zM103.9 286H114.5L114.5 290.6H103.8zM121.5 286H128.6L128.6 290.6H121.5zM135.7 286H139.2L139.3 290.6H135.7zM149.8 286H153.3L153.4 290.6H149.9zM156.9 286H163.9L164.1 290.6H157zM171 286H188.6L188.9 290.6H171.2zM192.2 286H202.8L203.1 290.6H192.4zM209.8 286H227.5L227.9 290.6H210.2zM234.5 286H238.1L238.5 290.6H235zM107.4 290.6H110.9L110.9 295.3H107.3zM132.2 290.6H135.7L135.8 295.3H132.2zM142.8 290.6H146.4L146.5 295.3H142.9zM149.9 290.6H160.5L160.7 295.3H150zM164.1 290.6H171.2L171.4 295.3H164.2zM178.3 290.6H185.4L185.6 295.3H178.5zM192.4 290.6H196L196.3 295.3H192.7zM199.5 290.6H203.1L203.4 295.3H199.8zM206.6 290.6H227.9L228.3 295.3H207zM96.6 295.3H100.2L100.1 299.9H96.5zM110.9 295.3H125.1L125.1 299.9H110.8zM135.8 295.3H164.2L164.4 299.9H135.8zM174.9 295.3H178.5L178.7 299.9H175.1zM182 295.3H185.6L185.9 299.9H182.3zM189.2 295.3H228.3L228.7 299.9H189.4zM231.9 295.3H235.4L235.9 299.9H232.3zM103.7 299.9H121.5L121.5 304.5H103.5zM125.1 299.9H139.4L139.4 304.5H125zM150.1 299.9H153.7L153.7 304.5H150.1zM160.8 299.9H164.4L164.4 304.5H160.9zM168 299.9H178.7L178.8 304.5H168zM185.9 299.9H189.4L189.5 304.5H185.9zM193 299.9H196.6L196.7 304.5H193.1zM200.1 299.9H210.9L211 304.5H200.3zM214.4 299.9H246.6L246.9 304.5H214.6zM110.7 304.5H121.5L121.4 309.1H110.6zM132.2 304.5H135.8L135.7 309.1H132.1zM160.9 304.5H164.4L164.5 309.1H160.9zM168 304.5H182.4L182.4 309.1H168.1zM185.9 304.5H189.5L189.6 309.1H186zM193.1 304.5H200.3L200.4 309.1H193.2zM211 304.5H221.8L222 309.1H211.2zM225.4 304.5H239.7L239.9 309.1H225.6zM110.6 309.1H117.8L117.7 313.8H110.5zM125 309.1H128.5L128.5 313.8H124.9zM132.1 309.1H139.3L139.3 313.8H132.1zM153.7 309.1H157.3L157.3 313.8H153.7zM164.5 309.1H186L186.1 313.8H164.5zM196.8 309.1H200.4L200.5 313.8H196.9zM204 309.1H207.6L207.8 313.8H204.2zM211.2 309.1H229.2L229.4 313.8H211.4zM232.8 309.1H236.3L236.6 313.8H233zM239.9 309.1H247.1L247.4 313.8H240.2zM164.5 313.8H186.1L186.2 318.4H164.5zM189.7 313.8H196.9L197.1 318.4H189.8zM204.2 313.8H215L215.1 318.4H204.3zM218.6 313.8H247.4L247.7 318.4H218.7zM132 318.4H135.6L135.6 323H132zM142.9 318.4H146.5L146.5 323H142.8zM160.9 318.4H171.8L171.8 323H161zM175.4 318.4H182.6L182.7 323H175.4zM193.5 318.4H197.1L197.2 323H193.6zM200.7 318.4H229.6L229.8 323H200.8zM236.8 318.4H244L244.3 323H237.1zM124.7 323H128.3L128.3 327.6H124.6zM146.5 323H157.3L157.3 327.6H146.4zM161 323H168.2L168.2 327.6H161zM171.8 323H186.3L186.4 327.6H171.9zM189.9 323H200.8L200.9 327.6H190zM204.4 323H244.3L244.6 327.6H204.6zM124.6 327.6H128.3L128.2 332.3H124.6zM131.9 327.6H135.5L135.5 332.3H131.8zM150.1 327.6H157.3L157.4 332.3H150.1zM161 327.6H164.6L164.6 332.3H161zM168.2 327.6H182.8L182.9 332.3H168.3zM186.4 327.6H197.3L197.4 332.3H186.5zM200.9 327.6H204.6L204.7 332.3H201.1zM211.9 327.6H222.8L222.9 332.3H212zM226.4 327.6H237.3L237.5 332.3H226.6zM131.8 332.3H146.4L146.4 336.9H131.8zM153.7 332.3H157.4L157.4 336.9H153.7zM161 332.3H168.3L168.3 336.9H161zM171.9 332.3H175.6L175.6 336.9H172zM190.2 332.3H222.9L223.1 336.9H190.3zM230.2 332.3H233.9L234.1 336.9H230.4zM241.2 332.3H248.5L248.7 336.9H241.4zM139.1 336.9H175.6L175.7 341.5H139.1zM179.3 336.9H193.9L194 341.5H179.4zM201.2 336.9H245.1L245.3 341.5H201.3zM135.4 341.5H153.7L153.7 346.1H135.3zM157.4 341.5H179.4L179.4 346.1H157.4zM197.7 341.5H216L216.2 346.1H197.8zM219.7 341.5H223.3L223.5 346.1H219.9zM227 341.5H230.7L230.9 346.1H227.2zM238 341.5H249L249.3 346.1H238.2zM142.7 346.1H150L150 350.8H142.7zM153.7 346.1H161.1L161.1 350.8H153.7zM164.7 346.1H190.5L190.6 350.8H164.8zM194.1 346.1H223.5L223.7 350.8H194.2zM238.2 346.1H241.9L242.1 350.8H238.5zM142.7 350.8H179.5L179.6 355.4H142.6zM201.6 350.8H209L209.1 355.4H201.8zM216.4 350.8H223.7L223.9 355.4H216.5zM234.8 350.8H238.5L238.7 355.4H235zM142.6 355.4H183.3L183.4 360H142.6zM201.8 355.4H220.2L220.4 360H201.9zM223.9 355.4H235L235.2 360H224.1zM246.1 355.4H249.8L250.1 360H246.3zM146.3 360H150L150 364.6H146.3zM153.7 360H168.5L168.6 364.6H153.7zM172.2 360H198.2L198.3 364.6H172.3zM201.9 360H209.3L209.4 364.6H202zM213 360H220.4L220.6 364.6H213.2zM224.1 360H231.5L231.7 364.6H224.3zM238.9 360H242.6L242.9 364.6H239.2zM246.3 360H250.1L250.3 364.6H246.6zM142.5 369.3H150L150 373.9H142.5zM153.7 369.3H179.8L179.9 373.9H153.7zM191 369.3H194.7L194.8 373.9H191.1zM205.9 369.3H209.6L209.8 373.9H206zM213.3 369.3H220.8L221 373.9H213.5zM224.5 369.3H228.2L228.4 373.9H224.7zM239.4 369.3H246.9L247.1 373.9H239.6zM146.3 364.6H150L150 369.3H146.3zM153.7 364.6H157.4L157.4 369.3H153.7zM172.3 364.6H183.4L183.5 369.3H172.3zM187.2 364.6H194.6L194.7 369.3H187.3zM202 364.6H220.6L220.8 369.3H202.2zM224.3 364.6H228L228.2 369.3H224.5zM138.8 373.9H142.5L142.5 378.5H138.7zM153.7 373.9H187.3L187.4 378.5H153.7zM191.1 373.9H194.8L194.9 378.5H191.2zM198.6 373.9H202.3L202.4 378.5H198.7zM213.5 373.9H224.7L224.9 378.5H213.7zM228.4 373.9H239.6L239.9 378.5H228.6zM243.4 373.9H247.1L247.4 378.5H243.6zM161.2 378.5H176.2L176.3 383.1H161.3zM179.9 378.5H209.9L210.1 383.1H180zM213.7 378.5H224.9L225.1 383.1H213.8zM228.6 378.5H236.1L236.4 383.1H228.9zM243.6 378.5H251.1L251.4 383.1H243.9zM176.3 383.1H191.3L191.4 387.8H176.4zM195.1 383.1H206.3L206.5 387.8H195.2zM217.6 383.1H225.1L225.3 387.8H217.8zM228.9 383.1H232.6L232.9 387.8H229.1zM240.1 383.1H247.7L247.9 387.8H240.4zM153.8 392.4H157.6L157.6 397H153.8zM165.1 392.4H176.5L176.5 397H165.2zM180.2 392.4H218L218.2 397H180.3zM221.8 392.4H248.2L248.5 397H222zM180.1 387.8H206.5L206.7 392.4H180.2zM214 387.8H217.8L218 392.4H214.2zM221.6 387.8H240.4L240.7 392.4H221.8zM247.9 387.8H251.7L252 392.4H248.2zM157.6 401.6H161.4L161.5 406.3H157.7zM169 401.6H172.8L172.9 406.3H169.1zM176.6 401.6H188L188.2 406.3H176.7zM191.8 401.6H199.4L199.6 406.3H192zM203.2 401.6H229.8L230.1 406.3H203.4zM233.6 401.6H241.2L241.5 406.3H233.9zM165.2 397H184.1L184.2 401.6H165.2zM191.7 397H229.6L229.8 401.6H191.8zM233.4 397H241L241.2 401.6H233.6zM153.9 406.3H157.7L157.7 410.9H153.9zM161.5 406.3H165.3L165.3 410.9H161.5zM172.9 406.3H176.7L176.8 410.9H173zM180.5 406.3H203.4L203.6 410.9H180.6zM207.2 406.3H211L211.2 410.9H207.4zM218.6 406.3H237.7L238 410.9H218.8zM245.3 406.3H249.1L249.4 410.9H245.6zM157.7 415.5H161.6L161.6 420.1H157.8zM169.2 415.5H173.1L173.1 420.1H169.3zM176.9 415.5H188.4L188.5 420.1H177zM203.7 415.5H211.4L211.6 420.1H203.9zM219.1 415.5H226.7L226.9 420.1H219.3zM230.5 415.5H238.2L238.5 420.1H230.8zM176.8 410.9H188.3L188.4 415.5H176.9zM192.1 410.9H207.4L207.6 415.5H192.2zM211.2 410.9H215L215.2 415.5H211.4zM218.8 410.9H230.3L230.5 415.5H219.1zM241.8 410.9H249.4L249.7 415.5H242zM165.5 420.1H169.3L169.4 424.8H165.5zM177 420.1H184.7L184.8 424.8H177.1zM196.2 420.1H207.7L207.9 424.8H196.3zM211.6 420.1H215.4L215.6 424.8H211.8zM226.9 420.1H230.8L231 424.8H227.2zM173.2 424.8H188.6L188.8 429.4H173.3zM192.5 424.8H204.1L204.2 429.4H192.6zM211.8 424.8H215.6L215.8 429.4H211.9zM234.9 424.8H238.7L239 429.4H235.1zM165.6 429.4H173.3L173.4 434H165.6zM177.2 429.4H181L181.1 434H177.3zM184.9 429.4H188.8L188.9 434H185zM192.6 429.4H196.5L196.6 434H192.8zM204.2 429.4H211.9L212.1 434H204.4zM215.8 429.4H227.4L227.6 434H216zM97.6 73.3H103.6L103.4 77.9H97.4zM72.3 91.8H78.4L78.2 96.4H72.1zM72.1 96.4H75.1L74.9 101H71.8zM74.9 101H78L77.7 105.6H74.6zM65.3 105.6H77.7L77.5 110.3H65.1zM52.6 110.3H55.7L55.4 114.9H52.3zM65.1 110.3H71.3L71 114.9H64.8zM74.4 110.3H77.5L77.2 114.9H74.1zM67.9 114.9H74.1L73.9 119.5H67.6zM64.5 119.5H67.6L67.3 124.1H64.2zM89.3 124.1H95.6L95.4 128.8H89.1zM51.3 128.8H54.5L54.2 133.4H51zM89.1 128.8H92.2L92.1 133.4H88.9zM85.7 133.4H88.9L88.7 138H85.5zM182.4 82.5H185.5L185.6 87.1H182.5z"/><path fill="#446ca4" d="M197.1 161.1H200.3L200.5 165.8H197.2zM106.4 179.6H113L112.8 184.3H106.3zM106 193.5H109.3L109.2 198.1H105.9zM198.1 193.5H204.7L204.9 198.1H198.3zM46.5 198.1H49.8L49.5 202.8H46.2zM63 198.1H66.3L66 202.8H62.7zM72.9 198.1H76.2L76 202.8H72.6zM49.5 202.8H52.8L52.5 207.4H49.2zM56.1 202.8H62.7L62.4 207.4H55.8zM69.3 202.8H72.6L72.4 207.4H69.1zM49.2 207.4H55.8L55.5 212H48.8zM82.4 207.4H85.7L85.5 212H82.1zM138.8 207.4H145.4L145.4 212H138.8zM45.2 216.6H51.9L51.6 221.3H44.9zM55.2 216.6H65.2L65 221.3H54.9zM145.4 216.6H148.7L148.7 221.3H145.4zM52.2 212H65.5L65.2 216.6H51.9zM182.1 212H185.4L185.5 216.6H182.2zM71.4 225.9H74.8L74.6 230.5H71.2zM67.8 230.5H81.3L81.1 235.1H67.6zM60.8 235.1H64.2L63.9 239.8H60.5zM67.6 235.1H77.7L77.5 239.8H67.3zM70.7 239.8H80.9L80.7 244.4H70.5zM141.9 239.8H145.3L145.4 244.4H142zM67.1 244.4H73.9L73.7 249H66.9zM77.3 244.4H80.7L80.5 249H77.1zM101.1 244.4H114.8L114.7 249H101.1zM118.2 244.4H121.6L121.6 249H118.2zM60 249H63.4L63.2 253.6H59.8zM73.7 249H80.5L80.4 253.6H73.5zM87.4 249H90.8L90.7 253.6H87.2zM94.2 249H101.1L101 253.6H94.1zM107.9 249H121.6L121.6 253.6H107.8zM142.1 249H145.5L145.6 253.6H142.2zM231 249H234.4L234.9 253.6H231.4zM63.2 253.6H66.6L66.4 258.3H63zM76.9 253.6H80.4L80.2 258.3H76.8zM87.2 253.6H104.4L104.3 258.3H87.1zM107.8 253.6H118.1L118.1 258.3H107.8zM125 253.6H128.4L128.5 258.3H125zM224.6 253.6H238.3L238.8 258.3H225zM63 258.3H66.4L66.2 262.9H62.7zM69.9 258.3H73.3L73.1 262.9H69.6zM76.8 258.3H80.2L80 262.9H76.6zM87.1 258.3H97.4L97.3 262.9H87zM107.8 258.3H125L125 262.9H107.7zM225 258.3H231.9L232.3 262.9H225.4zM235.3 258.3H242.2L242.7 262.9H235.8zM87 262.9H97.3L97.2 267.5H86.8zM114.6 262.9H118.1L118.1 267.5H114.6zM176.9 262.9H180.4L180.6 267.5H177.2zM232.3 262.9H239.2L239.7 267.5H232.8zM86.7 272.1H93.6L93.5 276.8H86.5zM97.1 272.1H100.6L100.5 276.8H97zM104.1 272.1H111.1L111 276.8H104zM118.1 272.1H121.6L121.6 276.8H118.1zM226.2 272.1H233.2L233.7 276.8H226.6zM236.7 272.1H243.7L244.2 276.8H237.2zM90.3 267.5H93.8L93.6 272.1H90.2zM97.2 267.5H104.2L104.1 272.1H97.1zM107.7 267.5H114.6L114.6 272.1H107.6zM118.1 267.5H121.6L121.6 272.1H118.1zM232.8 267.5H243.2L243.7 272.1H233.2zM82.9 281.4H86.4L86.2 286H82.7zM89.9 281.4H93.4L93.3 286H89.8zM96.9 281.4H100.4L100.4 286H96.8zM107.5 281.4H135.6L135.7 286H107.4zM142.7 281.4H146.2L146.3 286H142.7zM227.1 281.4H241.1L241.6 286H227.5zM100.5 276.8H104L104 281.4H100.4zM111 276.8H118.1L118 281.4H111zM230.1 276.8H233.7L234.1 281.4H230.6zM237.2 276.8H240.7L241.1 281.4H237.6zM89.8 286H93.3L93.2 290.6H89.6zM96.8 286H103.9L103.8 290.6H96.7zM114.5 286H118L118 290.6H114.5zM128.6 286H135.7L135.7 290.6H128.6zM139.2 286H149.8L149.9 290.6H139.3zM227.5 286H234.5L235 290.6H227.9zM238.1 286H245.1L245.6 290.6H238.5zM96.7 290.6H100.3L100.2 295.3H96.6zM103.8 290.6H107.4L107.3 295.3H103.7zM110.9 290.6H125.1L125.1 295.3H110.9zM135.7 290.6H142.8L142.9 295.3H135.8zM227.9 290.6H245.6L246.1 295.3H228.3zM100.2 295.3H110.9L110.8 299.9H100.1zM125.1 295.3H135.8L135.8 299.9H125.1zM235.4 295.3H242.5L243 299.9H235.9zM121.5 299.9H125.1L125 304.5H121.5zM139.4 299.9H150.1L150.1 304.5H139.4zM153.7 299.9H160.8L160.9 304.5H153.7zM125 304.5H128.6L128.5 309.1H125zM139.4 304.5H160.9L160.9 309.1H139.3zM239.7 304.5H243.3L243.5 309.1H239.9zM121.4 309.1H125L124.9 313.8H121.3zM139.3 309.1H150.1L150.1 313.8H139.3zM157.3 309.1H160.9L160.9 313.8H157.3zM186 309.1H193.2L193.3 313.8H186.1zM128.5 313.8H142.9L142.9 318.4H128.4zM153.7 313.8H160.9L160.9 318.4H153.7zM186.1 313.8H189.7L189.8 318.4H186.2zM215 313.8H218.6L218.7 318.4H215.1zM135.6 318.4H142.9L142.8 323H135.6zM146.5 318.4H160.9L161 323H146.5zM171.8 318.4H175.4L175.4 323H171.8zM182.6 318.4H193.5L193.6 323H182.7zM229.6 318.4H236.8L237.1 323H229.8zM139.2 323H146.5L146.4 327.6H139.2zM157.3 323H161L161 327.6H157.3zM186.3 323H189.9L190 327.6H186.4zM200.8 323H204.4L204.6 327.6H200.9zM135.5 327.6H150.1L150.1 332.3H135.5zM164.6 327.6H168.2L168.3 332.3H164.6zM204.6 327.6H211.9L212 332.3H204.7zM150.1 332.3H153.7L153.7 336.9H150.1zM157.4 332.3H161L161 336.9H157.4zM182.9 332.3H190.2L190.3 336.9H182.9zM175.6 336.9H179.3L179.4 341.5H175.7zM193.9 336.9H197.6L197.7 341.5H194zM179.4 341.5H190.4L190.5 346.1H179.4zM234.3 341.5H238L238.2 346.1H234.6zM150 346.1H153.7L153.7 350.8H150zM161.1 346.1H164.7L164.8 350.8H161.1zM179.5 350.8H183.2L183.3 355.4H179.6zM186.9 350.8H201.6L201.8 355.4H187zM231.1 350.8H234.8L235 355.4H231.3zM183.3 355.4H198.1L198.2 360H183.4zM238.7 355.4H242.4L242.6 360H238.9zM220.4 360H224.1L224.3 364.6H220.6zM235.2 360H238.9L239.2 364.6H235.5zM242.6 360H246.3L246.6 364.6H242.9zM179.8 369.3H183.5L183.6 373.9H179.9zM194.7 369.3H205.9L206 373.9H194.8zM209.6 369.3H213.3L213.5 373.9H209.8zM220.8 369.3H224.5L224.7 373.9H221zM246.9 369.3H250.6L250.8 373.9H247.1zM183.4 364.6H187.2L187.3 369.3H183.5zM194.6 364.6H202L202.2 369.3H194.7zM228 364.6H231.7L232 369.3H228.2zM194.8 373.9H198.6L198.7 378.5H194.9zM202.3 373.9H213.5L213.7 378.5H202.4zM209.9 378.5H213.7L213.8 383.1H210.1zM239.9 378.5H243.6L243.9 383.1H240.1zM165 383.1H168.8L168.8 387.8H165.1zM191.3 383.1H195.1L195.2 387.8H191.4zM206.3 383.1H217.6L217.8 387.8H206.5zM232.6 383.1H240.1L240.4 387.8H232.9zM165.1 387.8H168.8L168.9 392.4H165.1z"/><path fill="#5f93c0" d="M109.6 184.3H112.8L112.7 188.9H109.4zM53.1 198.1H56.4L56.1 202.8H52.8zM52.8 202.8H56.1L55.8 207.4H52.5zM211.7 202.8H215L215.2 207.4H211.8zM165.5 216.6H168.8L168.8 221.3H165.5zM218.9 216.6H222.2L222.5 221.3H219.1zM48.8 212H52.2L51.9 216.6H48.5zM162.1 212H168.7L168.8 216.6H162.1zM61.4 225.9H64.7L64.4 230.5H61.1zM226.5 235.1H233.3L233.5 239.8H226.7zM216.9 244.4H227.1L227.6 249H217.3zM90.8 249H94.2L94.1 253.6H90.7zM97.4 258.3H100.9L100.8 262.9H97.3zM231.9 258.3H235.3L235.8 262.9H232.3zM177.4 272.1H180.9L181.1 276.8H177.6zM86.8 267.5H90.3L90.2 272.1H86.7zM225.8 267.5H232.8L233.2 272.1H226.2zM118.1 276.8H121.6L121.6 281.4H118zM226.6 276.8H230.1L230.6 281.4H227.1zM118 286H121.5L121.5 290.6H118zM125.1 290.6H132.2L132.2 295.3H125.1zM146.4 290.6H149.9L150 295.3H146.5zM121.5 304.5H125L125 309.1H121.4zM128.6 304.5H132.2L132.1 309.1H128.5zM150.1 309.1H153.7L153.7 313.8H150.1zM142.9 313.8H146.5L146.5 318.4H142.9zM222.8 327.6H226.4L226.6 332.3H222.9zM237.3 327.6H240.9L241.2 332.3H237.5zM146.4 332.3H150.1L150.1 336.9H146.4zM153.7 341.5H157.4L157.4 346.1H153.7zM198.1 355.4H201.8L201.9 360H198.2zM224.7 373.9H228.4L228.6 378.5H224.9zM247.1 373.9H250.8L251.1 378.5H247.4zM172.8 401.6H176.6L176.7 406.3H172.9zM161.7 424.8H165.5L165.6 429.4H161.7z"/><path fill="#93c4d9" d="M217 175H220.3L220.5 179.6H217.2zM207.6 184.3H210.9L211.1 188.9H207.8zM49.8 198.1H53.1L52.8 202.8H49.5zM171.9 198.1H175.2L175.2 202.8H171.9zM215.2 207.4H218.5L218.7 212H215.4zM228.3 295.3H231.9L232.3 299.9H228.7zM146.5 313.8H153.7L153.7 318.4H146.5zM135.6 323H139.2L139.2 327.6H135.5zM150 360H153.7L153.7 364.6H150zM224.9 378.5H228.6L228.9 383.1H225.1z"/><path fill="#d3e6ec" d="M171.8 193.5H175.1L175.2 198.1H171.9zM218.5 207.4H221.8L222 212H218.7zM51.3 225.9H54.6L54.3 230.5H51zM226.3 230.5H229.6L229.9 235.1H226.5zM233 230.5H236.4L236.6 235.1H233.3zM73.9 244.4H77.3L77.1 249H73.7zM66.9 249H70.3L70.1 253.6H66.6zM66.4 258.3H69.9L69.6 262.9H66.2zM100.6 272.1H104.1L104 276.8H100.5zM104 281.4H107.5L107.4 286H103.9zM135.8 304.5H139.4L139.3 309.1H135.7zM160.9 309.1H164.5L164.5 313.8H160.9z"/><path fill="#fee8a8" d="M212.8 151.9H216L216.2 156.5H213z"/><path fill="#fed976" d="M221.6 202.8H224.9L225.1 207.4H221.8zM233.5 239.8H236.9L237.4 244.4H234zM73.3 258.3H76.8L76.6 262.9H73.1z"/><path fill="#fdae45" d="M57.7 230.5H61.1L60.8 235.1H57.4zM93.8 267.5H97.2L97.1 272.1H93.6z"/><path fill="#f03b20" d="M216 151.9H219.2L219.4 156.5H216.2zM230.1 239.8H233.5L234 244.4H230.5z"/><path fill="#c8102a" d="M221.8 207.4H225.1L225.4 212H222z"/><path fill="#5f93a3" d="M194.2 170.4H197.4L197.5 175H194.3z"/>
</g></g>
<g transform="translate(11.5 456.5)"><use href="#grid"/><use href="#abo"/><use href="#lab"/></g>
</g>
<g clip-path="url(#c3)"><g filter="url(#bl)">
<rect x="303" y="496.7" width="264" height="402.8" fill="#2b2a2a"/>
<g transform="translate(302.2 455.7)">
<use href="#base"/>
<path fill="#333b8f" d="M59.9 142.6H66.3L66 147.3H59.6zM164.7 142.6H167.9L168 147.3H164.8zM50 147.3H66L65.7 151.9H49.7zM72.4 147.3H81.9L81.7 151.9H72.1zM148.9 147.3H152L152 151.9H148.8zM49.7 151.9H52.9L52.6 156.5H49.4zM56.1 151.9H59.3L59 156.5H55.8zM72.1 151.9H75.3L75.1 156.5H71.9zM81.7 151.9H88.1L87.9 156.5H81.5zM148.8 151.9H152L152 156.5H148.8zM78 161.1H81.3L81 165.8H77.8zM119.9 161.1H123.1L123 165.8H119.8zM126.3 161.1H129.5L129.5 165.8H126.2zM145.6 161.1H148.8L148.8 165.8H145.6zM152 161.1H158.5L158.5 165.8H152.1zM181 161.1H184.2L184.3 165.8H181.1zM81.5 156.5H84.7L84.5 161.1H81.3zM148.8 156.5H158.5L158.5 161.1H148.8zM48.8 165.8H52L51.7 170.4H48.4zM68.1 165.8H71.4L71.1 170.4H67.9zM119.8 165.8H123L122.9 170.4H119.7zM126.2 165.8H132.7L132.6 170.4H126.1zM145.6 165.8H148.8L148.8 170.4H145.6zM155.3 165.8H158.5L158.5 170.4H155.3zM161.7 165.8H165L165 170.4H161.8zM190.8 165.8H194L194.2 170.4H190.9zM48.4 170.4H51.7L51.4 175H48.1zM58.1 170.4H71.1L70.8 175H57.9zM74.3 170.4H77.6L77.3 175H74.1zM84.1 170.4H87.3L87.1 175H83.8zM119.7 170.4H126.1L126.1 175H119.6zM129.4 170.4H132.6L132.6 175H129.3zM145.6 170.4H148.8L148.8 175H145.6zM48.1 175H57.9L57.6 179.6H47.8zM61.1 175H64.3L64.1 179.6H60.8zM67.6 175H70.8L70.6 179.6H67.3zM80.6 175H83.8L83.6 179.6H80.4zM113.1 175H126.1L126 179.6H113zM129.3 175H139.1L139 179.6H129.3zM148.8 175H152.1L152.1 179.6H148.8zM207.3 175H210.5L210.7 179.6H207.5zM47.8 179.6H70.6L70.3 184.3H47.5zM93.4 179.6H96.7L96.5 184.3H93.2zM103.2 179.6H106.4L106.3 184.3H103zM113 179.6H119.5L119.4 184.3H112.8zM126 179.6H139L139 184.3H125.9zM47.5 184.3H63.8L63.5 188.9H47.1zM70.3 184.3H76.9L76.6 188.9H70.1zM80.1 184.3H83.4L83.2 188.9H79.9zM103 184.3H106.3L106.2 188.9H102.9zM122.6 184.3H129.2L129.1 188.9H122.6zM132.5 184.3H135.7L135.7 188.9H132.4zM165.1 184.3H171.7L171.7 188.9H165.2zM194.6 184.3H197.8L198 188.9H194.7zM204.4 184.3H207.6L207.8 188.9H204.5zM210.9 184.3H214.2L214.4 188.9H211.1zM47.1 188.9H66.8L66.5 193.5H46.8zM73.4 188.9H76.6L76.4 193.5H73.1zM79.9 188.9H86.5L86.3 193.5H79.7zM93 188.9H96.3L96.2 193.5H92.9zM102.9 188.9H116L115.9 193.5H102.7zM125.8 188.9H132.4L132.3 193.5H125.8zM139 188.9H152.1L152.1 193.5H138.9zM155.3 188.9H158.6L158.6 193.5H155.4zM161.9 188.9H165.2L165.2 193.5H161.9zM46.8 193.5H60L59.7 198.1H46.5zM73.1 193.5H76.4L76.2 198.1H72.9zM102.7 193.5H106L105.9 198.1H102.6zM109.3 193.5H112.6L112.5 198.1H109.2zM119.2 193.5H145.5L145.5 198.1H119.1zM188.3 193.5H191.5L191.7 198.1H188.4zM46.5 198.1H49.8L49.5 202.8H46.2zM56.4 198.1H63L62.7 202.8H56.1zM76.2 198.1H92.7L92.5 202.8H76zM99.3 198.1H102.6L102.4 202.8H99.1zM109.2 198.1H115.8L115.7 202.8H109.1zM122.4 198.1H125.7L125.6 202.8H122.3zM129 198.1H132.3L132.2 202.8H128.9zM142.2 198.1H145.5L145.5 202.8H142.1zM148.8 198.1H155.4L155.4 202.8H148.8zM158.7 198.1H162L162 202.8H158.7zM204.9 198.1H208.2L208.3 202.8H205zM46.2 202.8H49.5L49.2 207.4H45.8zM66 202.8H69.3L69.1 207.4H65.8zM76 202.8H95.8L95.6 207.4H75.7zM99.1 202.8H102.4L102.3 207.4H99zM105.7 202.8H115.7L115.6 207.4H105.6zM128.9 202.8H145.5L145.4 207.4H128.8zM155.4 202.8H158.7L158.7 207.4H155.4zM185.2 202.8H191.8L191.9 207.4H185.3zM218.3 202.8H221.6L221.8 207.4H218.5zM59.1 207.4H69.1L68.8 212H58.8zM75.7 207.4H82.4L82.1 212H75.5zM85.7 207.4H92.3L92.1 212H85.5zM95.6 207.4H112.2L112.1 212H95.5zM118.9 207.4H125.5L125.4 212H118.8zM128.8 207.4H138.8L138.8 212H128.8zM145.4 207.4H158.7L158.7 212H145.4zM165.4 207.4H168.7L168.7 212H165.4zM185.3 207.4H188.6L188.7 212H185.4zM195.2 207.4H198.6L198.7 212H195.4zM205.2 207.4H208.5L208.7 212H205.4zM211.8 207.4H215.2L215.4 212H212zM225.1 207.4H228.4L228.7 212H225.4zM65.2 216.6H68.6L68.3 221.3H65zM71.9 216.6H75.3L75 221.3H71.7zM78.6 216.6H88.6L88.4 221.3H78.4zM92 216.6H102L101.8 221.3H91.8zM112 216.6H115.3L115.2 221.3H111.9zM118.7 216.6H125.4L125.3 221.3H118.6zM132 216.6H142.1L142 221.3H132zM155.4 216.6H165.5L165.5 221.3H155.4zM182.2 216.6H185.5L185.6 221.3H182.2zM212.2 216.6H218.9L219.1 221.3H212.4zM72.2 212H75.5L75.3 216.6H71.9zM78.8 212H85.5L85.3 216.6H78.6zM88.8 212H98.8L98.6 216.6H88.6zM102.1 212H108.8L108.7 216.6H102zM122.1 212H125.4L125.4 216.6H122zM142.1 212H155.4L155.4 216.6H142.1zM158.7 212H162.1L162.1 216.6H158.8zM175.4 212H182.1L182.2 216.6H175.5zM44.9 221.3H54.9L54.6 225.9H44.5zM58.3 221.3H85.1L84.9 225.9H58zM91.8 221.3H95.1L95 225.9H91.6zM101.8 221.3H105.2L105 225.9H101.7zM108.5 221.3H111.9L111.8 225.9H108.4zM115.2 221.3H118.6L118.5 225.9H115.1zM121.9 221.3H125.3L125.2 225.9H121.8zM132 221.3H135.3L135.3 225.9H131.9zM142 221.3H148.7L148.7 225.9H142zM155.4 221.3H162.1L162.2 225.9H155.5zM168.8 221.3H178.9L179 225.9H168.9zM188.9 221.3H195.7L195.8 225.9H189.1zM199 221.3H202.4L202.5 225.9H199.1zM205.7 221.3H209.1L209.2 225.9H205.9zM215.8 221.3H222.5L222.7 225.9H216zM229.2 221.3H232.5L232.8 225.9H229.4zM44.5 225.9H51.3L51 230.5H44.2zM58 225.9H61.4L61.1 230.5H57.7zM64.7 225.9H71.4L71.2 230.5H64.4zM84.9 225.9H88.2L88 230.5H84.7zM91.6 225.9H95L94.8 230.5H91.4zM98.3 225.9H108.4L108.3 230.5H98.2zM115.1 225.9H118.5L118.4 230.5H115zM121.8 225.9H125.2L125.1 230.5H121.8zM128.6 225.9H138.7L138.6 230.5H128.5zM145.4 225.9H148.7L148.7 230.5H145.4zM152.1 225.9H155.5L155.5 230.5H152.1zM172.3 225.9H182.3L182.4 230.5H172.3zM192.4 225.9H195.8L195.9 230.5H192.6zM229.4 225.9H232.8L233 230.5H229.6zM47.6 230.5H57.7L57.4 235.1H47.3zM61.1 230.5H67.8L67.6 235.1H60.8zM91.4 230.5H115L114.9 235.1H91.2zM118.4 230.5H121.8L121.7 235.1H118.3zM125.1 230.5H135.2L135.2 235.1H125.1zM148.7 230.5H158.8L158.9 235.1H148.7zM169 230.5H179.1L179.2 235.1H169zM185.8 230.5H189.2L189.3 235.1H185.9zM206 230.5H209.4L209.6 235.1H206.2zM43.9 235.1H47.3L47 239.8H43.6zM50.7 235.1H60.8L60.5 239.8H50.4zM64.2 235.1H67.6L67.3 239.8H63.9zM77.7 235.1H128.4L128.4 239.8H77.5zM131.8 235.1H138.6L138.5 239.8H131.8zM165.6 235.1H169L169.1 239.8H165.7zM175.8 235.1H179.2L179.2 239.8H175.8zM182.5 235.1H189.3L189.4 239.8H182.6zM202.8 235.1H209.6L209.8 239.8H203zM216.3 235.1H226.5L226.7 239.8H216.5zM233.3 235.1H236.6L236.9 239.8H233.5zM47 239.8H70.7L70.5 244.4H46.7zM91.1 239.8H128.4L128.4 244.4H90.9zM138.5 239.8H145.3L145.4 244.4H138.6zM192.8 239.8H199.6L199.9 244.4H193.1zM203 239.8H206.4L206.7 244.4H203.3zM216.5 239.8H230.1L230.5 244.4H216.9zM236.9 239.8H240.3L240.8 244.4H237.4zM43.3 244.4H70.5L70.3 249H42.9zM80.7 244.4H101.1L101.1 249H80.5zM121.6 244.4H125L125 249H121.6zM131.8 244.4H145.4L145.5 249H131.8zM148.8 244.4H152.2L152.3 249H148.9zM169.2 244.4H186.3L186.5 249H169.4zM193.1 244.4H203.3L203.6 249H193.4zM206.7 244.4H216.9L217.3 249H207.1zM227.1 244.4H237.4L237.8 249H227.6zM56.6 249H60L59.8 253.6H56.3zM63.4 249H66.9L66.6 253.6H63.2zM70.3 249H73.7L73.5 253.6H70.1zM80.5 249H87.4L87.2 253.6H80.4zM101.1 249H107.9L107.8 253.6H101zM114.7 249H121.6L121.6 253.6H114.7zM131.8 249H142.1L142.2 253.6H131.9zM159.2 249H162.6L162.8 253.6H159.3zM169.4 249H176.3L176.5 253.6H169.6zM179.7 249H186.5L186.8 253.6H179.9zM193.4 249H196.8L197.1 253.6H193.7zM203.6 249H207.1L207.4 253.6H204zM217.3 249H231L231.4 253.6H217.7zM49.5 253.6H59.8L59.5 258.3H49.2zM66.6 253.6H76.9L76.8 258.3H66.4zM83.8 253.6H87.2L87.1 258.3H83.6zM104.4 253.6H107.8L107.8 258.3H104.3zM118.1 253.6H125L125 258.3H118.1zM131.9 253.6H135.3L135.4 258.3H131.9zM138.7 253.6H142.2L142.2 258.3H138.8zM145.6 253.6H162.8L162.9 258.3H145.7zM173.1 253.6H176.5L176.7 258.3H173.3zM179.9 253.6H190.2L190.5 258.3H180.2zM193.7 253.6H204L204.3 258.3H194zM210.8 253.6H217.7L218.1 258.3H211.2zM224.6 253.6H228L228.4 258.3H225zM238.3 253.6H241.7L242.2 258.3H238.8zM100.9 258.3H107.8L107.7 262.9H100.8zM125 258.3H128.5L128.5 262.9H125zM131.9 258.3H135.4L135.4 262.9H131.9zM138.8 258.3H149.1L149.3 262.9H138.9zM162.9 258.3H190.5L190.8 262.9H163.1zM197.4 258.3H207.7L208.1 262.9H197.7zM211.2 258.3H218.1L218.5 262.9H211.6zM221.5 258.3H225L225.4 262.9H221.9zM76.6 262.9H87L86.8 267.5H76.4zM97.3 262.9H114.6L114.6 267.5H97.2zM118.1 262.9H135.4L135.5 267.5H118.1zM142.3 262.9H145.8L145.9 267.5H142.4zM152.7 262.9H156.2L156.3 267.5H152.8zM166.6 262.9H176.9L177.2 267.5H166.7zM183.9 262.9H190.8L191.1 267.5H184.1zM221.9 262.9H232.3L232.8 267.5H222.3zM69.2 272.1H72.7L72.5 276.8H69zM111.1 272.1H118.1L118.1 276.8H111zM121.6 272.1H128.5L128.6 276.8H121.6zM142.5 272.1H146L146.1 276.8H142.6zM149.5 272.1H153L153.1 276.8H149.6zM156.4 272.1H159.9L160.1 276.8H156.6zM163.4 272.1H166.9L167.1 276.8H163.6zM180.9 272.1H184.4L184.6 276.8H181.1zM194.8 272.1H208.8L209.1 276.8H195.1zM219.3 272.1H226.2L226.6 276.8H219.6zM233.2 272.1H240.2L240.7 276.8H233.7zM72.9 267.5H76.4L76.2 272.1H72.7zM83.3 267.5H86.8L86.7 272.1H83.2zM104.2 267.5H107.7L107.6 272.1H104.1zM114.6 267.5H118.1L118.1 272.1H114.6zM121.6 267.5H152.8L153 272.1H121.6zM159.8 267.5H163.3L163.4 272.1H159.9zM170.2 267.5H173.7L173.9 272.1H170.4zM187.6 267.5H191.1L191.3 272.1H187.8zM211.9 267.5H215.4L215.8 272.1H212.3zM218.9 267.5H225.8L226.2 272.1H219.3zM239.7 267.5H243.2L243.7 272.1H240.2zM75.8 281.4H79.3L79.2 286H75.6zM100.4 281.4H104L103.9 286H100.4zM111 281.4H114.5L114.5 286H111zM118 281.4H121.6L121.5 286H118zM153.2 281.4H160.2L160.4 286H153.3zM177.8 281.4H191.9L192.2 286H178zM195.4 281.4H209.5L209.8 286H195.7zM213 281.4H220L220.4 286H213.4zM223.5 281.4H227.1L227.5 286H223.9zM241.1 281.4H244.6L245.1 286H241.6zM100.5 276.8H111L111 281.4H100.4zM121.6 276.8H135.6L135.6 281.4H121.6zM139.1 276.8H142.6L142.7 281.4H139.1zM163.6 276.8H167.1L167.3 281.4H163.8zM174.1 276.8H191.6L191.9 281.4H174.3zM198.6 276.8H205.6L206 281.4H198.9zM216.1 276.8H219.6L220 281.4H216.5zM223.1 276.8H226.6L227.1 281.4H223.5zM233.7 276.8H244.2L244.6 281.4H234.1zM86.2 286H89.8L89.6 290.6H86.1zM103.9 286H114.5L114.5 290.6H103.8zM121.5 286H132.1L132.2 290.6H121.5zM135.7 286H139.2L139.3 290.6H135.7zM146.3 286H153.3L153.4 290.6H146.4zM156.9 286H163.9L164.1 290.6H157zM171 286H188.6L188.9 290.6H171.2zM192.2 286H202.8L203.1 290.6H192.4zM209.8 286H227.5L227.9 290.6H210.2zM234.5 286H238.1L238.5 290.6H235zM107.4 290.6H110.9L110.9 295.3H107.3zM132.2 290.6H135.7L135.8 295.3H132.2zM142.8 290.6H146.4L146.5 295.3H142.9zM149.9 290.6H160.5L160.7 295.3H150zM164.1 290.6H171.2L171.4 295.3H164.2zM178.3 290.6H185.4L185.6 295.3H178.5zM192.4 290.6H196L196.3 295.3H192.7zM199.5 290.6H203.1L203.4 295.3H199.8zM206.6 290.6H227.9L228.3 295.3H207zM96.6 295.3H100.2L100.1 299.9H96.5zM110.9 295.3H125.1L125.1 299.9H110.8zM135.8 295.3H164.2L164.4 299.9H135.8zM174.9 295.3H178.5L178.7 299.9H175.1zM182 295.3H185.6L185.9 299.9H182.3zM189.2 295.3H228.3L228.7 299.9H189.4zM231.9 295.3H235.4L235.9 299.9H232.3zM103.7 299.9H121.5L121.5 304.5H103.5zM125.1 299.9H139.4L139.4 304.5H125zM150.1 299.9H153.7L153.7 304.5H150.1zM160.8 299.9H164.4L164.4 304.5H160.9zM168 299.9H178.7L178.8 304.5H168zM185.9 299.9H189.4L189.5 304.5H185.9zM193 299.9H196.6L196.7 304.5H193.1zM200.1 299.9H210.9L211 304.5H200.3zM214.4 299.9H246.6L246.9 304.5H214.6zM110.7 304.5H121.5L121.4 309.1H110.6zM132.2 304.5H135.8L135.7 309.1H132.1zM146.5 304.5H150.1L150.1 309.1H146.5zM160.9 304.5H164.4L164.5 309.1H160.9zM168 304.5H182.4L182.4 309.1H168.1zM185.9 304.5H189.5L189.6 309.1H186zM193.1 304.5H200.3L200.4 309.1H193.2zM211 304.5H221.8L222 309.1H211.2zM225.4 304.5H239.7L239.9 309.1H225.6zM110.6 309.1H117.8L117.7 313.8H110.5zM125 309.1H128.5L128.5 313.8H124.9zM132.1 309.1H139.3L139.3 313.8H132.1zM153.7 309.1H157.3L157.3 313.8H153.7zM164.5 309.1H186L186.1 313.8H164.5zM189.6 309.1H193.2L193.3 313.8H189.7zM196.8 309.1H200.4L200.5 313.8H196.9zM211.2 309.1H229.2L229.4 313.8H211.4zM232.8 309.1H236.3L236.6 313.8H233zM239.9 309.1H247.1L247.4 313.8H240.2zM164.5 313.8H186.1L186.2 318.4H164.5zM189.7 313.8H196.9L197.1 318.4H189.8zM207.8 313.8H215L215.1 318.4H207.9zM218.6 313.8H247.4L247.7 318.4H218.7zM132 318.4H135.6L135.6 323H132zM142.9 318.4H146.5L146.5 323H142.8zM160.9 318.4H171.8L171.8 323H161zM175.4 318.4H182.6L182.7 323H175.4zM193.5 318.4H197.1L197.2 323H193.6zM200.7 318.4H215.1L215.3 323H200.8zM218.7 318.4H229.6L229.8 323H218.9zM236.8 318.4H244L244.3 323H237.1zM124.7 323H128.3L128.3 327.6H124.6zM142.8 323H157.3L157.3 327.6H142.8zM164.6 323H168.2L168.2 327.6H164.6zM171.8 323H200.8L200.9 327.6H171.9zM204.4 323H244.3L244.6 327.6H204.6zM124.6 327.6H128.3L128.2 332.3H124.6zM131.9 327.6H135.5L135.5 332.3H131.8zM150.1 327.6H157.3L157.4 332.3H150.1zM161 327.6H164.6L164.6 332.3H161zM168.2 327.6H182.8L182.9 332.3H168.3zM186.4 327.6H197.3L197.4 332.3H186.5zM200.9 327.6H204.6L204.7 332.3H201.1zM211.9 327.6H222.8L222.9 332.3H212zM233.7 327.6H237.3L237.5 332.3H233.9zM131.8 332.3H146.4L146.4 336.9H131.8zM153.7 332.3H164.6L164.7 336.9H153.7zM171.9 332.3H175.6L175.6 336.9H172zM190.2 332.3H222.9L223.1 336.9H190.3zM230.2 332.3H233.9L234.1 336.9H230.4zM241.2 332.3H248.5L248.7 336.9H241.4zM139.1 336.9H172L172 341.5H139.1zM175.6 336.9H179.3L179.4 341.5H175.7zM182.9 336.9H186.6L186.7 341.5H183zM190.3 336.9H193.9L194 341.5H190.4zM201.2 336.9H245.1L245.3 341.5H201.3zM135.4 341.5H153.7L153.7 346.1H135.3zM157.4 341.5H179.4L179.4 346.1H157.4zM197.7 341.5H216L216.2 346.1H197.8zM219.7 341.5H223.3L223.5 346.1H219.9zM227 341.5H230.7L230.9 346.1H227.2zM238 341.5H249L249.3 346.1H238.2zM142.7 346.1H150L150 350.8H142.7zM153.7 346.1H161.1L161.1 350.8H153.7zM164.7 346.1H190.5L190.6 350.8H164.8zM197.8 346.1H223.5L223.7 350.8H197.9zM238.2 346.1H241.9L242.1 350.8H238.5zM142.7 350.8H179.5L179.6 355.4H142.6zM201.6 350.8H209L209.1 355.4H201.8zM216.4 350.8H223.7L223.9 355.4H216.5zM234.8 350.8H238.5L238.7 355.4H235zM142.6 355.4H183.3L183.4 360H142.6zM201.8 355.4H209.1L209.3 360H201.9zM216.5 355.4H220.2L220.4 360H216.7zM223.9 355.4H235L235.2 360H224.1zM246.1 355.4H249.8L250.1 360H246.3zM146.3 360H150L150 364.6H146.3zM153.7 360H168.5L168.6 364.6H153.7zM172.2 360H198.2L198.3 364.6H172.3zM205.6 360H209.3L209.4 364.6H205.7zM213 360H220.4L220.6 364.6H213.2zM224.1 360H231.5L231.7 364.6H224.3zM238.9 360H242.6L242.9 364.6H239.2zM246.3 360H250.1L250.3 364.6H246.6zM142.5 369.3H150L150 373.9H142.5zM153.7 369.3H179.8L179.9 373.9H153.7zM191 369.3H194.7L194.8 373.9H191.1zM205.9 369.3H209.6L209.8 373.9H206zM217.1 369.3H220.8L221 373.9H217.2zM224.5 369.3H228.2L228.4 373.9H224.7zM239.4 369.3H246.9L247.1 373.9H239.6zM146.3 364.6H150L150 369.3H146.3zM153.7 364.6H157.4L157.4 369.3H153.7zM172.3 364.6H183.4L183.5 369.3H172.3zM187.2 364.6H194.6L194.7 369.3H187.3zM209.4 364.6H220.6L220.8 369.3H209.6zM224.3 364.6H228L228.2 369.3H224.5zM138.8 373.9H142.5L142.5 378.5H138.7zM153.7 373.9H187.3L187.4 378.5H153.7zM191.1 373.9H194.8L194.9 378.5H191.2zM198.6 373.9H202.3L202.4 378.5H198.7zM217.2 373.9H224.7L224.9 378.5H217.4zM228.4 373.9H239.6L239.9 378.5H228.6zM243.4 373.9H247.1L247.4 378.5H243.6zM161.2 378.5H176.2L176.3 383.1H161.3zM179.9 378.5H209.9L210.1 383.1H180zM213.7 378.5H221.1L221.4 383.1H213.8zM228.6 378.5H236.1L236.4 383.1H228.9zM243.6 378.5H251.1L251.4 383.1H243.9zM176.3 383.1H206.3L206.5 387.8H176.4zM217.6 383.1H225.1L225.3 387.8H217.8zM228.9 383.1H232.6L232.9 387.8H229.1zM240.1 383.1H247.7L247.9 387.8H240.4zM153.8 392.4H157.6L157.6 397H153.8zM165.1 392.4H176.5L176.5 397H165.2zM180.2 392.4H218L218.2 397H180.3zM221.8 392.4H225.6L225.8 397H222zM229.3 392.4H248.2L248.5 397H229.6zM180.1 387.8H206.5L206.7 392.4H180.2zM214 387.8H217.8L218 392.4H214.2zM221.6 387.8H240.4L240.7 392.4H221.8zM247.9 387.8H251.7L252 392.4H248.2zM157.6 401.6H161.4L161.5 406.3H157.7zM169 401.6H172.8L172.9 406.3H169.1zM176.6 401.6H188L188.2 406.3H176.7zM191.8 401.6H199.4L199.6 406.3H192zM203.2 401.6H229.8L230.1 406.3H203.4zM233.6 401.6H241.2L241.5 406.3H233.9zM165.2 397H184.1L184.2 401.6H165.2zM191.7 397H229.6L229.8 401.6H191.8zM233.4 397H241L241.2 401.6H233.6zM153.9 406.3H157.7L157.7 410.9H153.9zM161.5 406.3H165.3L165.3 410.9H161.5zM172.9 406.3H176.7L176.8 410.9H173zM180.5 406.3H192L192.1 410.9H180.6zM199.6 406.3H203.4L203.6 410.9H199.7zM207.2 406.3H211L211.2 410.9H207.4zM218.6 406.3H226.3L226.5 410.9H218.8zM230.1 406.3H237.7L238 410.9H230.3zM245.3 406.3H249.1L249.4 410.9H245.6zM157.7 415.5H161.6L161.6 420.1H157.8zM169.2 415.5H173.1L173.1 420.1H169.3zM176.9 415.5H188.4L188.5 420.1H177zM203.7 415.5H211.4L211.6 420.1H203.9zM219.1 415.5H226.7L226.9 420.1H219.3zM234.4 415.5H238.2L238.5 420.1H234.6zM176.8 410.9H188.3L188.4 415.5H176.9zM192.1 410.9H207.4L207.6 415.5H192.2zM211.2 410.9H215L215.2 415.5H211.4zM218.8 410.9H230.3L230.5 415.5H219.1zM241.8 410.9H249.4L249.7 415.5H242zM165.5 420.1H169.3L169.4 424.8H165.5zM180.8 420.1H184.7L184.8 424.8H180.9zM196.2 420.1H207.7L207.9 424.8H196.3zM211.6 420.1H215.4L215.6 424.8H211.8zM226.9 420.1H230.8L231 424.8H227.2zM173.2 424.8H184.8L184.9 429.4H173.3zM192.5 424.8H204.1L204.2 429.4H192.6zM211.8 424.8H215.6L215.8 429.4H211.9zM234.9 424.8H238.7L239 429.4H235.1zM165.6 429.4H173.3L173.4 434H165.6zM184.9 429.4H188.8L188.9 434H185zM192.6 429.4H196.5L196.6 434H192.8zM204.2 429.4H211.9L212.1 434H204.4zM215.8 429.4H227.4L227.6 434H216zM97.6 73.3H103.6L103.4 77.9H97.4zM72.3 91.8H78.4L78.2 96.4H72.1zM72.1 96.4H75.1L74.9 101H71.8zM74.9 101H78L77.7 105.6H74.6zM65.3 105.6H77.7L77.5 110.3H65.1zM52.6 110.3H55.7L55.4 114.9H52.3zM65.1 110.3H71.3L71 114.9H64.8zM74.4 110.3H77.5L77.2 114.9H74.1zM67.9 114.9H74.1L73.9 119.5H67.6zM64.5 119.5H67.6L67.3 124.1H64.2zM89.3 124.1H95.6L95.4 128.8H89.1zM51.3 128.8H54.5L54.2 133.4H51zM89.1 128.8H92.2L92.1 133.4H88.9zM85.7 133.4H88.9L88.7 138H85.5zM182.4 82.5H185.5L185.6 87.1H182.5z"/><path fill="#446ca4" d="M197.1 161.1H200.3L200.5 165.8H197.2zM106.4 179.6H113L112.8 184.3H106.3zM106 193.5H109.3L109.2 198.1H105.9zM198.1 193.5H204.7L204.9 198.1H198.3zM63 198.1H66.3L66 202.8H62.7zM72.9 198.1H76.2L76 202.8H72.6zM49.5 202.8H52.8L52.5 207.4H49.2zM56.1 202.8H62.7L62.4 207.4H55.8zM49.2 207.4H55.8L55.5 212H48.8zM82.4 207.4H85.7L85.5 212H82.1zM138.8 207.4H145.4L145.4 212H138.8zM45.2 216.6H48.5L48.2 221.3H44.9zM55.2 216.6H65.2L65 221.3H54.9zM145.4 216.6H148.7L148.7 221.3H145.4zM55.5 212H65.5L65.2 216.6H55.2zM182.1 212H185.4L185.5 216.6H182.2zM71.4 225.9H74.8L74.6 230.5H71.2zM67.8 230.5H81.3L81.1 235.1H67.6zM60.8 235.1H64.2L63.9 239.8H60.5zM67.6 235.1H77.7L77.5 239.8H67.3zM70.7 239.8H80.9L80.7 244.4H70.5zM70.5 244.4H73.9L73.7 249H70.3zM77.3 244.4H80.7L80.5 249H77.1zM101.1 244.4H114.8L114.7 249H101.1zM118.2 244.4H121.6L121.6 249H118.2zM60 249H63.4L63.2 253.6H59.8zM73.7 249H80.5L80.4 253.6H73.5zM87.4 249H90.8L90.7 253.6H87.2zM94.2 249H101.1L101 253.6H94.1zM107.9 249H114.7L114.7 253.6H107.8zM142.1 249H145.5L145.6 253.6H142.2zM231 249H234.4L234.9 253.6H231.4zM63.2 253.6H66.6L66.4 258.3H63zM76.9 253.6H80.4L80.2 258.3H76.8zM87.2 253.6H104.4L104.3 258.3H87.1zM107.8 253.6H118.1L118.1 258.3H107.8zM125 253.6H128.4L128.5 258.3H125zM228 253.6H238.3L238.8 258.3H228.4zM63 258.3H66.4L66.2 262.9H62.7zM69.9 258.3H73.3L73.1 262.9H69.6zM76.8 258.3H80.2L80 262.9H76.6zM87.1 258.3H97.4L97.3 262.9H87zM107.8 258.3H125L125 262.9H107.7zM225 258.3H231.9L232.3 262.9H225.4zM235.3 258.3H242.2L242.7 262.9H235.8zM87 262.9H97.3L97.2 267.5H86.8zM114.6 262.9H118.1L118.1 267.5H114.6zM176.9 262.9H180.4L180.6 267.5H177.2zM232.3 262.9H239.2L239.7 267.5H232.8zM86.7 272.1H93.6L93.5 276.8H86.5zM97.1 272.1H100.6L100.5 276.8H97zM104.1 272.1H111.1L111 276.8H104zM118.1 272.1H121.6L121.6 276.8H118.1zM226.2 272.1H233.2L233.7 276.8H226.6zM240.2 272.1H243.7L244.2 276.8H240.7zM90.3 267.5H93.8L93.6 272.1H90.2zM97.2 267.5H104.2L104.1 272.1H97.1zM107.7 267.5H114.6L114.6 272.1H107.6zM118.1 267.5H121.6L121.6 272.1H118.1zM232.8 267.5H239.7L240.2 272.1H233.2zM82.9 281.4H86.4L86.2 286H82.7zM89.9 281.4H93.4L93.3 286H89.8zM96.9 281.4H100.4L100.4 286H96.8zM107.5 281.4H111L111 286H107.4zM114.5 281.4H118L118 286H114.5zM121.6 281.4H135.6L135.7 286H121.5zM142.7 281.4H146.2L146.3 286H142.7zM227.1 281.4H241.1L241.6 286H227.5zM111 276.8H118.1L118 281.4H111zM230.1 276.8H233.7L234.1 281.4H230.6zM89.8 286H93.3L93.2 290.6H89.6zM96.8 286H103.9L103.8 290.6H96.7zM114.5 286H118L118 290.6H114.5zM132.1 286H135.7L135.7 290.6H132.2zM139.2 286H146.3L146.4 290.6H139.3zM227.5 286H234.5L235 290.6H227.9zM238.1 286H245.1L245.6 290.6H238.5zM96.7 290.6H100.3L100.2 295.3H96.6zM103.8 290.6H107.4L107.3 295.3H103.7zM110.9 290.6H125.1L125.1 295.3H110.9zM135.7 290.6H142.8L142.9 295.3H135.8zM227.9 290.6H245.6L246.1 295.3H228.3zM100.2 295.3H110.9L110.8 299.9H100.1zM125.1 295.3H135.8L135.8 299.9H125.1zM235.4 295.3H242.5L243 299.9H235.9zM121.5 299.9H125.1L125 304.5H121.5zM139.4 299.9H150.1L150.1 304.5H139.4zM153.7 299.9H160.8L160.9 304.5H153.7zM125 304.5H128.6L128.5 309.1H125zM139.4 304.5H146.5L146.5 309.1H139.3zM150.1 304.5H160.9L160.9 309.1H150.1zM239.7 304.5H243.3L243.5 309.1H239.9zM121.4 309.1H125L124.9 313.8H121.3zM139.3 309.1H150.1L150.1 313.8H139.3zM157.3 309.1H160.9L160.9 313.8H157.3zM186 309.1H189.6L189.7 313.8H186.1zM128.5 313.8H142.9L142.9 318.4H128.4zM153.7 313.8H160.9L160.9 318.4H153.7zM186.1 313.8H189.7L189.8 318.4H186.2zM215 313.8H218.6L218.7 318.4H215.1zM135.6 318.4H142.9L142.8 323H135.6zM146.5 318.4H153.7L153.7 323H146.5zM157.3 318.4H160.9L161 323H157.3zM182.6 318.4H193.5L193.6 323H182.7zM229.6 318.4H236.8L237.1 323H229.8zM139.2 323H142.8L142.8 327.6H139.2zM157.3 323H161L161 327.6H157.3zM200.8 323H204.4L204.6 327.6H200.9zM135.5 327.6H150.1L150.1 332.3H135.5zM164.6 327.6H168.2L168.3 332.3H164.6zM204.6 327.6H211.9L212 332.3H204.7zM150.1 332.3H153.7L153.7 336.9H150.1zM182.9 332.3H190.2L190.3 336.9H182.9zM193.9 336.9H197.6L197.7 341.5H194zM179.4 341.5H190.4L190.5 346.1H179.4zM234.3 341.5H238L238.2 346.1H234.6zM150 346.1H153.7L153.7 350.8H150zM161.1 346.1H164.7L164.8 350.8H161.1zM179.5 350.8H183.2L183.3 355.4H179.6zM186.9 350.8H201.6L201.8 355.4H187zM231.1 350.8H234.8L235 355.4H231.3zM183.3 355.4H194.4L194.5 360H183.4zM238.7 355.4H242.4L242.6 360H238.9zM220.4 360H224.1L224.3 364.6H220.6zM235.2 360H238.9L239.2 364.6H235.5zM242.6 360H246.3L246.6 364.6H242.9zM179.8 369.3H183.5L183.6 373.9H179.9zM194.7 369.3H205.9L206 373.9H194.8zM209.6 369.3H213.3L213.5 373.9H209.8zM220.8 369.3H224.5L224.7 373.9H221zM246.9 369.3H250.6L250.8 373.9H247.1zM183.4 364.6H187.2L187.3 369.3H183.5zM194.6 364.6H202L202.2 369.3H194.7zM194.8 373.9H198.6L198.7 378.5H194.9zM202.3 373.9H213.5L213.7 378.5H202.4zM209.9 378.5H213.7L213.8 383.1H210.1zM239.9 378.5H243.6L243.9 383.1H240.1zM165 383.1H168.8L168.8 387.8H165.1zM206.3 383.1H217.6L217.8 387.8H206.5zM232.6 383.1H240.1L240.4 387.8H232.9zM165.1 387.8H168.8L168.9 392.4H165.1z"/><path fill="#5f93c0" d="M109.6 184.3H112.8L112.7 188.9H109.4zM217.4 184.3H220.7L220.9 188.9H217.7zM53.1 198.1H56.4L56.1 202.8H52.8zM171.9 198.1H175.2L175.2 202.8H171.9zM52.8 202.8H56.1L55.8 207.4H52.5zM211.7 202.8H215L215.2 207.4H211.8zM165.5 216.6H168.8L168.8 221.3H165.5zM218.9 216.6H222.2L222.5 221.3H219.1zM48.8 212H52.2L51.9 216.6H48.5zM162.1 212H168.7L168.8 216.6H162.1zM61.4 225.9H64.7L64.4 230.5H61.1zM226.5 235.1H233.3L233.5 239.8H226.7zM216.9 244.4H227.1L227.6 249H217.3zM90.8 249H94.2L94.1 253.6H90.7zM97.4 258.3H100.9L100.8 262.9H97.3zM231.9 258.3H235.3L235.8 262.9H232.3zM177.4 272.1H180.9L181.1 276.8H177.6zM86.8 267.5H90.3L90.2 272.1H86.7zM225.8 267.5H232.8L233.2 272.1H226.2zM118.1 276.8H121.6L121.6 281.4H118zM226.6 276.8H230.1L230.6 281.4H227.1zM118 286H121.5L121.5 290.6H118zM125.1 290.6H132.2L132.2 295.3H125.1zM146.4 290.6H149.9L150 295.3H146.5zM121.5 304.5H125L125 309.1H121.4zM128.6 304.5H132.2L132.1 309.1H128.5zM150.1 309.1H153.7L153.7 313.8H150.1zM142.9 313.8H146.5L146.5 318.4H142.9zM222.8 327.6H226.4L226.6 332.3H222.9zM237.3 327.6H240.9L241.2 332.3H237.5zM146.4 332.3H150.1L150.1 336.9H146.4zM153.7 341.5H157.4L157.4 346.1H153.7zM198.1 355.4H201.8L201.9 360H198.2zM224.7 373.9H228.4L228.6 378.5H224.9zM247.1 373.9H250.8L251.1 378.5H247.4zM172.8 401.6H176.6L176.7 406.3H172.9zM161.7 424.8H165.5L165.6 429.4H161.7z"/><path fill="#93c4d9" d="M217 175H220.3L220.5 179.6H217.2zM207.6 184.3H210.9L211.1 188.9H207.8zM171.8 193.5H175.1L175.2 198.1H171.9zM49.8 198.1H53.1L52.8 202.8H49.5zM215.2 207.4H218.5L218.7 212H215.4zM228.3 295.3H231.9L232.3 299.9H228.7zM146.5 313.8H153.7L153.7 318.4H146.5zM135.6 323H139.2L139.2 327.6H135.5zM150 360H153.7L153.7 364.6H150zM224.9 378.5H228.6L228.9 383.1H225.1z"/><path fill="#d3e6ec" d="M218.5 207.4H221.8L222 212H218.7zM51.3 225.9H54.6L54.3 230.5H51zM226.3 230.5H229.6L229.9 235.1H226.5zM233 230.5H236.4L236.6 235.1H233.3zM73.9 244.4H77.3L77.1 249H73.7zM66.9 249H70.3L70.1 253.6H66.6zM66.4 258.3H69.9L69.6 262.9H66.2zM100.6 272.1H104.1L104 276.8H100.5zM104 281.4H107.5L107.4 286H103.9zM135.8 304.5H139.4L139.3 309.1H135.7zM160.9 309.1H164.5L164.5 313.8H160.9z"/><path fill="#fee8a8" d="M212.8 151.9H216L216.2 156.5H213z"/><path fill="#fed976" d="M221.6 202.8H224.9L225.1 207.4H221.8zM233.5 239.8H236.9L237.4 244.4H234zM73.3 258.3H76.8L76.6 262.9H73.1z"/><path fill="#fdae45" d="M57.7 230.5H61.1L60.8 235.1H57.4zM93.8 267.5H97.2L97.1 272.1H93.6z"/><path fill="#f03b20" d="M216 151.9H219.2L219.4 156.5H216.2zM230.1 239.8H233.5L234 244.4H230.5z"/><path fill="#c8102a" d="M221.8 207.4H225.1L225.4 212H222z"/><path fill="#5f93a3" d="M194.2 170.4H197.4L197.5 175H194.3z"/>
</g></g>
<g transform="translate(302.2 455.7)"><use href="#grid"/><use href="#abo"/><use href="#lab"/></g>
</g>
</svg>
<div class="t" style="left:101.8px;top:-3.0px">2020</div>
<div class="t" style="left:403.2px;top:-3.0px">2021</div>
<div class="t" style="left:101.8px;top:458.4px">2022</div>
<div class="t" style="left:404.2px;top:456.3px">2023</div>
<div class="lt">CH4 Emissions (kt)</div>
<div class="ls">Zero values not shown</div>
<div class="sw" style="top:484.2px;background:#313695"></div>
<div class="ll" style="top:495.5px">&lt; 0.8 kt</div>
<div class="sw" style="top:523.0px;background:#4575b4"></div>
<div class="ll" style="top:534.3px">0.8 kt</div>
<div class="sw" style="top:561.8px;background:#74add1"></div>
<div class="ll" style="top:573.1px">1.6 kt</div>
<div class="sw" style="top:600.5px;background:#abd9e9"></div>
<div class="ll" style="top:611.8px">2.4 kt</div>
<div class="sw" style="top:639.3px;background:#e0f3f8"></div>
<div class="ll" style="top:650.6px">3.2 kt</div>
<div class="sw" style="top:678.1px;background:#fee090"></div>
<div class="ll" style="top:689.4px">4.0 kt</div>
<div class="sw" style="top:716.9px;background:#fed976"></div>
<div class="ll" style="top:728.2px">4.8 kt</div>
<div class="sw" style="top:755.7px;background:#feb24c"></div>
<div class="ll" style="top:767.0px">6.4 kt</div>
<div class="sw" style="top:794.4px;background:#fd8d3c"></div>
<div class="ll" style="top:805.7px">8.0 kt</div>
<div class="sw" style="top:833.2px;background:#f03b20"></div>
<div class="ll" style="top:844.5px">12.0 kt</div>
<div class="sw" style="top:872.0px;background:#bd0026"></div>
<div class="ll" style="top:883.3px">16.0 kt</div>
</body></html>
